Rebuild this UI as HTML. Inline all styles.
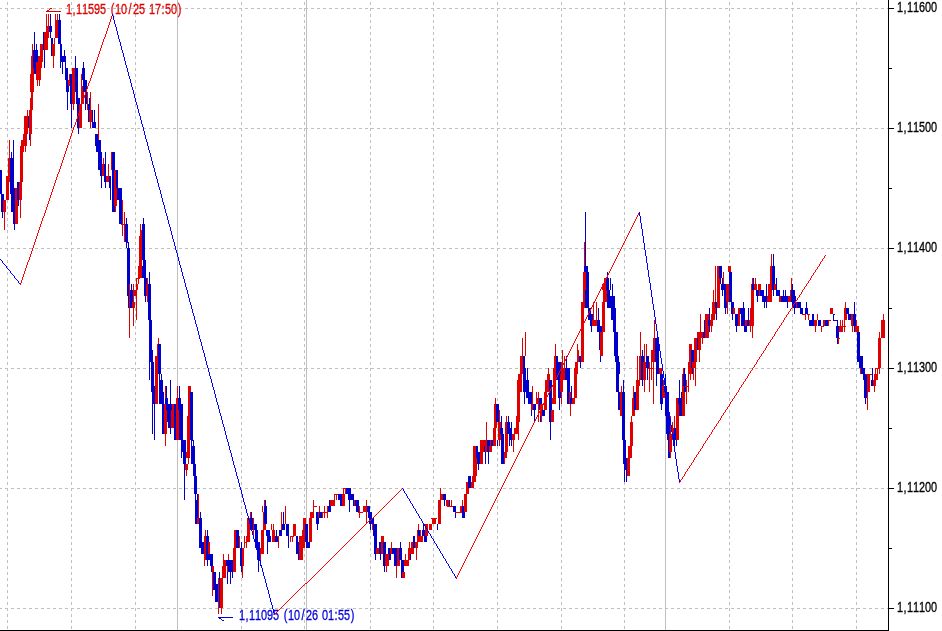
<!DOCTYPE html>
<html><head><meta charset="utf-8"><title>chart</title>
<style>html,body{margin:0;padding:0;background:#fff;}body{width:942px;height:631px;overflow:hidden;font-family:"Liberation Sans",sans-serif;}svg{display:block;}text{font-family:"Liberation Sans",sans-serif;}</style></head><body>
<svg width="942" height="631" viewBox="0 0 942 631">
<rect width="942" height="631" fill="#fff"/>
<g shape-rendering="crispEdges" fill="none">
<line x1="177.5" y1="0" x2="177.5" y2="630" stroke="#c0c0c0"/>
<line x1="306.5" y1="0" x2="306.5" y2="630" stroke="#c0c0c0"/>
<line x1="665.5" y1="0" x2="665.5" y2="630" stroke="#c0c0c0"/>
<line x1="-1" y1="8.5" x2="888" y2="8.5" stroke="#c0c0c0" stroke-dasharray="3 3"/>
<line x1="-1" y1="128.5" x2="888" y2="128.5" stroke="#c0c0c0" stroke-dasharray="3 3"/>
<line x1="-1" y1="248.5" x2="888" y2="248.5" stroke="#c0c0c0" stroke-dasharray="3 3"/>
<line x1="-1" y1="368.5" x2="888" y2="368.5" stroke="#c0c0c0" stroke-dasharray="3 3"/>
<line x1="-1" y1="488.5" x2="888" y2="488.5" stroke="#c0c0c0" stroke-dasharray="3 3"/>
<line x1="-1" y1="608.5" x2="888" y2="608.5" stroke="#c0c0c0" stroke-dasharray="3 3"/>
<line x1="7.5" y1="2" x2="7.5" y2="630" stroke="#c0c0c0" stroke-dasharray="3 3"/>
<line x1="71.5" y1="2" x2="71.5" y2="630" stroke="#c0c0c0" stroke-dasharray="3 3"/>
<line x1="135.5" y1="2" x2="135.5" y2="630" stroke="#c0c0c0" stroke-dasharray="3 3"/>
<line x1="241.5" y1="2" x2="241.5" y2="630" stroke="#c0c0c0" stroke-dasharray="3 3"/>
<line x1="304.5" y1="2" x2="304.5" y2="630" stroke="#c0c0c0" stroke-dasharray="3 3"/>
<line x1="370.5" y1="2" x2="370.5" y2="630" stroke="#c0c0c0" stroke-dasharray="3 3"/>
<line x1="433.5" y1="2" x2="433.5" y2="630" stroke="#c0c0c0" stroke-dasharray="3 3"/>
<line x1="497.5" y1="2" x2="497.5" y2="630" stroke="#c0c0c0" stroke-dasharray="3 3"/>
<line x1="561.5" y1="2" x2="561.5" y2="630" stroke="#c0c0c0" stroke-dasharray="3 3"/>
<line x1="624.5" y1="2" x2="624.5" y2="630" stroke="#c0c0c0" stroke-dasharray="3 3"/>
<line x1="729.5" y1="2" x2="729.5" y2="630" stroke="#c0c0c0" stroke-dasharray="3 3"/>
<line x1="792.5" y1="2" x2="792.5" y2="630" stroke="#c0c0c0" stroke-dasharray="3 3"/>
<line x1="856.5" y1="2" x2="856.5" y2="630" stroke="#c0c0c0" stroke-dasharray="3 3"/>
</g>
<g shape-rendering="crispEdges">
<rect x="32" y="44" width="1" height="12" fill="#e00000"/>
<rect x="31" y="56" width="3" height="24" fill="#e00000"/>
<rect x="34" y="32" width="1" height="18" fill="#0000cc"/>
<rect x="33" y="50" width="5" height="24" fill="#0000cc"/>
<rect x="36" y="44" width="1" height="6" fill="#0000cc"/>
<rect x="36" y="62" width="5" height="18" fill="#e00000"/>
<rect x="38" y="56" width="4" height="12" fill="#e00000"/>
<rect x="40" y="44" width="3" height="18" fill="#e00000"/>
<rect x="43" y="32" width="2" height="18" fill="#0000cc"/>
<rect x="44" y="50" width="1" height="18" fill="#0000cc"/>
<rect x="44" y="32" width="4" height="18" fill="#e00000"/>
<rect x="46" y="26" width="3" height="12" fill="#e00000"/>
<rect x="46" y="14" width="1" height="12" fill="#e00000"/>
<rect x="48" y="14" width="1" height="12" fill="#e00000"/>
<rect x="49" y="26" width="3" height="6" fill="#0000cc"/>
<rect x="50" y="14" width="1" height="24" fill="#0000cc"/>
<rect x="51" y="38" width="2" height="18" fill="#0000cc"/>
<rect x="52" y="44" width="3" height="12" fill="#e00000"/>
<rect x="53" y="56" width="1" height="12" fill="#e00000"/>
<rect x="54" y="38" width="1" height="6" fill="#e00000"/>
<rect x="55" y="20" width="3" height="18" fill="#e00000"/>
<rect x="55" y="14" width="1" height="6" fill="#e00000"/>
<rect x="57" y="14" width="1" height="6" fill="#e00000"/>
<rect x="58" y="20" width="3" height="24" fill="#0000cc"/>
<rect x="59" y="14" width="1" height="6" fill="#0000cc"/>
<rect x="60" y="44" width="2" height="12" fill="#0000cc"/>
<rect x="60" y="56" width="6" height="6" fill="#0000cc"/>
<rect x="60" y="62" width="1" height="6" fill="#0000cc"/>
<rect x="62" y="62" width="1" height="12" fill="#0000cc"/>
<rect x="64" y="50" width="1" height="6" fill="#0000cc"/>
<rect x="65" y="62" width="1" height="6" fill="#0000cc"/>
<rect x="65" y="68" width="3" height="12" fill="#0000cc"/>
<rect x="70" y="74" width="1" height="6" fill="#e00000"/>
<rect x="72" y="68" width="2" height="6" fill="#e00000"/>
<rect x="74" y="68" width="3" height="6" fill="#0000cc"/>
<rect x="75" y="56" width="1" height="12" fill="#0000cc"/>
<rect x="75" y="74" width="3" height="6" fill="#0000cc"/>
<rect x="81" y="74" width="2" height="6" fill="#e00000"/>
<rect x="82" y="68" width="3" height="12" fill="#0000cc"/>
<rect x="83" y="62" width="1" height="6" fill="#0000cc"/>
<rect x="0" y="170" width="2" height="24" fill="#0000cc"/>
<rect x="1" y="194" width="3" height="18" fill="#0000cc"/>
<rect x="2" y="212" width="1" height="6" fill="#0000cc"/>
<rect x="3" y="200" width="3" height="12" fill="#e00000"/>
<rect x="4" y="212" width="1" height="6" fill="#e00000"/>
<rect x="6" y="176" width="3" height="24" fill="#e00000"/>
<rect x="8" y="158" width="2" height="24" fill="#e00000"/>
<rect x="9" y="140" width="1" height="18" fill="#e00000"/>
<rect x="10" y="158" width="4" height="36" fill="#0000cc"/>
<rect x="11" y="152" width="1" height="6" fill="#0000cc"/>
<rect x="11" y="188" width="4" height="24" fill="#0000cc"/>
<rect x="13" y="140" width="1" height="18" fill="#0000cc"/>
<rect x="13" y="194" width="2" height="24" fill="#0000cc"/>
<rect x="15" y="188" width="3" height="30" fill="#e00000"/>
<rect x="17" y="182" width="2" height="18" fill="#0000cc"/>
<rect x="18" y="200" width="1" height="6" fill="#0000cc"/>
<rect x="19" y="182" width="3" height="18" fill="#e00000"/>
<rect x="20" y="200" width="1" height="18" fill="#e00000"/>
<rect x="20" y="146" width="3" height="36" fill="#e00000"/>
<rect x="22" y="140" width="5" height="6" fill="#e00000"/>
<rect x="25" y="146" width="1" height="6" fill="#e00000"/>
<rect x="30" y="140" width="1" height="6" fill="#e00000"/>
<rect x="95" y="140" width="6" height="6" fill="#0000cc"/>
<rect x="96" y="146" width="1" height="6" fill="#0000cc"/>
<rect x="98" y="146" width="3" height="24" fill="#0000cc"/>
<rect x="100" y="152" width="2" height="24" fill="#0000cc"/>
<rect x="101" y="176" width="1" height="12" fill="#0000cc"/>
<rect x="102" y="164" width="3" height="12" fill="#e00000"/>
<rect x="103" y="158" width="1" height="6" fill="#e00000"/>
<rect x="104" y="164" width="2" height="18" fill="#0000cc"/>
<rect x="105" y="152" width="1" height="36" fill="#0000cc"/>
<rect x="106" y="176" width="3" height="6" fill="#e00000"/>
<rect x="108" y="164" width="1" height="12" fill="#e00000"/>
<rect x="109" y="176" width="2" height="12" fill="#0000cc"/>
<rect x="110" y="188" width="1" height="12" fill="#0000cc"/>
<rect x="111" y="152" width="1" height="18" fill="#e00000"/>
<rect x="112" y="152" width="3" height="60" fill="#0000cc"/>
<rect x="114" y="170" width="3" height="36" fill="#e00000"/>
<rect x="115" y="206" width="1" height="6" fill="#e00000"/>
<rect x="116" y="170" width="2" height="18" fill="#0000cc"/>
<rect x="21" y="140" width="1" height="6" fill="#e00000"/>
<rect x="20" y="146" width="4" height="6" fill="#e00000"/>
<rect x="23" y="134" width="4" height="12" fill="#e00000"/>
<rect x="24" y="116" width="4" height="18" fill="#e00000"/>
<rect x="28" y="116" width="1" height="12" fill="#0000cc"/>
<rect x="27" y="110" width="1" height="6" fill="#e00000"/>
<rect x="29" y="110" width="3" height="24" fill="#e00000"/>
<rect x="29" y="134" width="1" height="6" fill="#0000cc"/>
<rect x="30" y="134" width="1" height="12" fill="#e00000"/>
<rect x="30" y="98" width="3" height="12" fill="#e00000"/>
<rect x="31" y="92" width="1" height="6" fill="#e00000"/>
<rect x="32" y="92" width="1" height="6" fill="#e00000"/>
<rect x="31" y="74" width="3" height="18" fill="#e00000"/>
<rect x="32" y="68" width="2" height="6" fill="#e00000"/>
<rect x="34" y="68" width="3" height="6" fill="#0000cc"/>
<rect x="36" y="68" width="5" height="12" fill="#e00000"/>
<rect x="37" y="80" width="1" height="6" fill="#e00000"/>
<rect x="39" y="80" width="1" height="6" fill="#e00000"/>
<rect x="62" y="68" width="1" height="6" fill="#0000cc"/>
<rect x="65" y="68" width="3" height="12" fill="#0000cc"/>
<rect x="66" y="80" width="3" height="12" fill="#0000cc"/>
<rect x="67" y="92" width="1" height="18" fill="#0000cc"/>
<rect x="68" y="80" width="2" height="6" fill="#e00000"/>
<rect x="69" y="74" width="1" height="6" fill="#e00000"/>
<rect x="70" y="74" width="2" height="30" fill="#0000cc"/>
<rect x="71" y="104" width="1" height="24" fill="#0000cc"/>
<rect x="72" y="68" width="3" height="36" fill="#e00000"/>
<rect x="73" y="104" width="1" height="6" fill="#e00000"/>
<rect x="75" y="68" width="3" height="24" fill="#0000cc"/>
<rect x="76" y="98" width="4" height="6" fill="#0000cc"/>
<rect x="77" y="104" width="2" height="24" fill="#0000cc"/>
<rect x="78" y="128" width="1" height="6" fill="#0000cc"/>
<rect x="79" y="104" width="3" height="24" fill="#e00000"/>
<rect x="81" y="74" width="1" height="30" fill="#e00000"/>
<rect x="81" y="86" width="3" height="18" fill="#e00000"/>
<rect x="82" y="68" width="3" height="12" fill="#0000cc"/>
<rect x="83" y="80" width="4" height="12" fill="#0000cc"/>
<rect x="85" y="92" width="2" height="12" fill="#0000cc"/>
<rect x="85" y="104" width="1" height="6" fill="#0000cc"/>
<rect x="87" y="92" width="1" height="18" fill="#e00000"/>
<rect x="88" y="104" width="2" height="18" fill="#0000cc"/>
<rect x="89" y="98" width="1" height="6" fill="#0000cc"/>
<rect x="89" y="110" width="3" height="12" fill="#e00000"/>
<rect x="90" y="92" width="1" height="36" fill="#e00000"/>
<rect x="92" y="110" width="1" height="12" fill="#0000cc"/>
<rect x="94" y="110" width="1" height="12" fill="#0000cc"/>
<rect x="92" y="122" width="4" height="6" fill="#0000cc"/>
<rect x="98" y="104" width="1" height="36" fill="#e00000"/>
<rect x="95" y="134" width="3" height="12" fill="#0000cc"/>
<rect x="97" y="140" width="4" height="12" fill="#0000cc"/>
<rect x="4" y="212" width="1" height="18" fill="#e00000"/>
<rect x="13" y="212" width="2" height="12" fill="#0000cc"/>
<rect x="14" y="224" width="1" height="6" fill="#0000cc"/>
<rect x="15" y="212" width="3" height="12" fill="#e00000"/>
<rect x="76" y="92" width="2" height="6" fill="#0000cc"/>
<rect x="30" y="74" width="4" height="18" fill="#e00000"/>
<rect x="110" y="194" width="1" height="6" fill="#0000cc"/>
<rect x="112" y="194" width="3" height="18" fill="#0000cc"/>
<rect x="114" y="194" width="3" height="12" fill="#e00000"/>
<rect x="115" y="206" width="1" height="6" fill="#e00000"/>
<rect x="117" y="188" width="5" height="12" fill="#0000cc"/>
<rect x="119" y="200" width="3" height="24" fill="#0000cc"/>
<rect x="122" y="200" width="1" height="36" fill="#e00000"/>
<rect x="121" y="224" width="3" height="1" fill="#e00000"/>
<rect x="124" y="212" width="1" height="30" fill="#e00000"/>
<rect x="125" y="224" width="3" height="18" fill="#0000cc"/>
<rect x="126" y="218" width="1" height="6" fill="#0000cc"/>
<rect x="126" y="242" width="1" height="6" fill="#0000cc"/>
<rect x="128" y="242" width="1" height="6" fill="#0000cc"/>
<rect x="126" y="242" width="3" height="1" fill="#0000cc"/>
<rect x="127" y="248" width="3" height="30" fill="#0000cc"/>
<rect x="140" y="224" width="1" height="12" fill="#e00000"/>
<rect x="141" y="230" width="1" height="6" fill="#e00000"/>
<rect x="139" y="236" width="3" height="30" fill="#e00000"/>
<rect x="138" y="266" width="4" height="12" fill="#e00000"/>
<rect x="142" y="224" width="3" height="36" fill="#0000cc"/>
<rect x="143" y="218" width="1" height="6" fill="#0000cc"/>
<rect x="143" y="260" width="3" height="18" fill="#0000cc"/>
<rect x="149" y="272" width="1" height="6" fill="#0000cc"/>
<rect x="127" y="266" width="3" height="30" fill="#0000cc"/>
<rect x="128" y="290" width="2" height="18" fill="#0000cc"/>
<rect x="129" y="284" width="1" height="54" fill="#e00000"/>
<rect x="129" y="290" width="1" height="6" fill="#e00000"/>
<rect x="131" y="284" width="1" height="6" fill="#0000cc"/>
<rect x="130" y="290" width="3" height="18" fill="#0000cc"/>
<rect x="132" y="302" width="3" height="6" fill="#e00000"/>
<rect x="133" y="284" width="1" height="42" fill="#e00000"/>
<rect x="134" y="290" width="3" height="6" fill="#e00000"/>
<rect x="136" y="278" width="1" height="42" fill="#e00000"/>
<rect x="136" y="284" width="2" height="6" fill="#e00000"/>
<rect x="136" y="278" width="1" height="6" fill="#e00000"/>
<rect x="138" y="278" width="1" height="6" fill="#e00000"/>
<rect x="136" y="278" width="4" height="1" fill="#e00000"/>
<rect x="138" y="266" width="4" height="6" fill="#e00000"/>
<rect x="138" y="272" width="1" height="6" fill="#e00000"/>
<rect x="141" y="272" width="1" height="6" fill="#e00000"/>
<rect x="142" y="266" width="4" height="12" fill="#0000cc"/>
<rect x="144" y="278" width="3" height="18" fill="#0000cc"/>
<rect x="145" y="296" width="1" height="6" fill="#0000cc"/>
<rect x="146" y="284" width="2" height="12" fill="#e00000"/>
<rect x="147" y="278" width="1" height="24" fill="#e00000"/>
<rect x="149" y="272" width="1" height="12" fill="#0000cc"/>
<rect x="148" y="284" width="3" height="36" fill="#0000cc"/>
<rect x="149" y="320" width="3" height="30" fill="#0000cc"/>
<rect x="158" y="338" width="1" height="6" fill="#e00000"/>
<rect x="157" y="344" width="2" height="6" fill="#e00000"/>
<rect x="158" y="344" width="3" height="6" fill="#0000cc"/>
<rect x="149" y="338" width="3" height="12" fill="#0000cc"/>
<rect x="149" y="350" width="4" height="12" fill="#0000cc"/>
<rect x="149" y="362" width="1" height="18" fill="#0000cc"/>
<rect x="151" y="362" width="3" height="30" fill="#0000cc"/>
<rect x="152" y="386" width="3" height="18" fill="#0000cc"/>
<rect x="152" y="404" width="1" height="18" fill="#0000cc"/>
<rect x="154" y="404" width="1" height="18" fill="#0000cc"/>
<rect x="155" y="356" width="3" height="48" fill="#e00000"/>
<rect x="157" y="344" width="2" height="12" fill="#e00000"/>
<rect x="158" y="338" width="1" height="6" fill="#e00000"/>
<rect x="158" y="344" width="3" height="30" fill="#0000cc"/>
<rect x="159" y="374" width="1" height="6" fill="#0000cc"/>
<rect x="161" y="374" width="1" height="6" fill="#0000cc"/>
<rect x="159" y="380" width="4" height="24" fill="#0000cc"/>
<rect x="162" y="392" width="2" height="30" fill="#0000cc"/>
<rect x="164" y="404" width="2" height="12" fill="#e00000"/>
<rect x="165" y="386" width="1" height="18" fill="#e00000"/>
<rect x="166" y="386" width="1" height="12" fill="#0000cc"/>
<rect x="165" y="398" width="3" height="6" fill="#0000cc"/>
<rect x="166" y="404" width="6" height="18" fill="#0000cc"/>
<rect x="170" y="380" width="1" height="24" fill="#0000cc"/>
<rect x="172" y="404" width="2" height="18" fill="#e00000"/>
<rect x="174" y="404" width="2" height="18" fill="#0000cc"/>
<rect x="177" y="386" width="1" height="12" fill="#e00000"/>
<rect x="176" y="398" width="2" height="24" fill="#e00000"/>
<rect x="179" y="386" width="1" height="12" fill="#0000cc"/>
<rect x="178" y="398" width="3" height="12" fill="#0000cc"/>
<rect x="179" y="404" width="4" height="18" fill="#0000cc"/>
<rect x="188" y="386" width="3" height="6" fill="#e00000"/>
<rect x="188" y="392" width="2" height="30" fill="#e00000"/>
<rect x="187" y="416" width="3" height="6" fill="#e00000"/>
<rect x="190" y="392" width="3" height="30" fill="#0000cc"/>
<rect x="152" y="410" width="1" height="24" fill="#0000cc"/>
<rect x="154" y="410" width="1" height="30" fill="#0000cc"/>
<rect x="162" y="410" width="3" height="24" fill="#0000cc"/>
<rect x="164" y="410" width="3" height="24" fill="#e00000"/>
<rect x="165" y="434" width="1" height="12" fill="#e00000"/>
<rect x="168" y="410" width="3" height="18" fill="#0000cc"/>
<rect x="170" y="428" width="1" height="6" fill="#0000cc"/>
<rect x="171" y="410" width="3" height="18" fill="#e00000"/>
<rect x="174" y="410" width="2" height="30" fill="#0000cc"/>
<rect x="176" y="410" width="3" height="30" fill="#e00000"/>
<rect x="179" y="410" width="1" height="6" fill="#0000cc"/>
<rect x="181" y="410" width="1" height="6" fill="#0000cc"/>
<rect x="179" y="416" width="4" height="24" fill="#0000cc"/>
<rect x="181" y="440" width="5" height="12" fill="#0000cc"/>
<rect x="181" y="452" width="1" height="6" fill="#0000cc"/>
<rect x="183" y="452" width="3" height="12" fill="#0000cc"/>
<rect x="184" y="464" width="1" height="30" fill="#0000cc"/>
<rect x="188" y="410" width="2" height="6" fill="#e00000"/>
<rect x="187" y="416" width="3" height="42" fill="#e00000"/>
<rect x="186" y="452" width="4" height="6" fill="#e00000"/>
<rect x="185" y="464" width="3" height="6" fill="#e00000"/>
<rect x="186" y="470" width="1" height="6" fill="#e00000"/>
<rect x="188" y="458" width="1" height="6" fill="#e00000"/>
<rect x="190" y="410" width="3" height="30" fill="#0000cc"/>
<rect x="191" y="440" width="1" height="6" fill="#0000cc"/>
<rect x="193" y="440" width="1" height="6" fill="#0000cc"/>
<rect x="191" y="440" width="3" height="1" fill="#0000cc"/>
<rect x="191" y="446" width="4" height="18" fill="#0000cc"/>
<rect x="193" y="464" width="3" height="12" fill="#0000cc"/>
<rect x="194" y="476" width="3" height="18" fill="#0000cc"/>
<rect x="184" y="482" width="1" height="18" fill="#0000cc"/>
<rect x="194" y="482" width="3" height="12" fill="#0000cc"/>
<rect x="195" y="494" width="1" height="6" fill="#0000cc"/>
<rect x="197" y="494" width="1" height="6" fill="#0000cc"/>
<rect x="195" y="500" width="3" height="24" fill="#0000cc"/>
<rect x="198" y="494" width="1" height="24" fill="#e00000"/>
<rect x="197" y="518" width="2" height="6" fill="#e00000"/>
<rect x="200" y="512" width="1" height="6" fill="#0000cc"/>
<rect x="199" y="518" width="3" height="30" fill="#0000cc"/>
<rect x="201" y="542" width="3" height="12" fill="#0000cc"/>
<rect x="205" y="530" width="1" height="6" fill="#e00000"/>
<rect x="204" y="536" width="2" height="24" fill="#e00000"/>
<rect x="204" y="560" width="1" height="6" fill="#e00000"/>
<rect x="207" y="530" width="1" height="6" fill="#0000cc"/>
<rect x="206" y="536" width="3" height="24" fill="#0000cc"/>
<rect x="208" y="542" width="2" height="18" fill="#e00000"/>
<rect x="209" y="554" width="4" height="6" fill="#0000cc"/>
<rect x="207" y="560" width="1" height="6" fill="#0000cc"/>
<rect x="211" y="560" width="2" height="6" fill="#0000cc"/>
<rect x="212" y="560" width="1" height="6" fill="#e00000"/>
<rect x="223" y="554" width="1" height="6" fill="#e00000"/>
<rect x="223" y="560" width="3" height="6" fill="#e00000"/>
<rect x="228" y="554" width="1" height="6" fill="#e00000"/>
<rect x="226" y="560" width="2" height="6" fill="#0000cc"/>
<rect x="229" y="560" width="4" height="6" fill="#0000cc"/>
<rect x="233" y="548" width="3" height="18" fill="#e00000"/>
<rect x="234" y="530" width="3" height="18" fill="#e00000"/>
<rect x="236" y="530" width="3" height="18" fill="#0000cc"/>
<rect x="239" y="536" width="1" height="12" fill="#e00000"/>
<rect x="240" y="548" width="1" height="18" fill="#0000cc"/>
<rect x="241" y="542" width="1" height="6" fill="#0000cc"/>
<rect x="241" y="548" width="3" height="18" fill="#e00000"/>
<rect x="244" y="536" width="1" height="12" fill="#e00000"/>
<rect x="246" y="536" width="1" height="12" fill="#e00000"/>
<rect x="244" y="542" width="3" height="1" fill="#e00000"/>
<rect x="247" y="518" width="3" height="24" fill="#e00000"/>
<rect x="250" y="512" width="1" height="6" fill="#e00000"/>
<rect x="251" y="512" width="1" height="6" fill="#0000cc"/>
<rect x="250" y="518" width="3" height="12" fill="#0000cc"/>
<rect x="253" y="518" width="1" height="18" fill="#e00000"/>
<rect x="254" y="524" width="3" height="6" fill="#0000cc"/>
<rect x="255" y="530" width="3" height="18" fill="#0000cc"/>
<rect x="257" y="542" width="3" height="18" fill="#0000cc"/>
<rect x="258" y="560" width="1" height="6" fill="#0000cc"/>
<rect x="260" y="560" width="1" height="6" fill="#0000cc"/>
<rect x="260" y="548" width="4" height="6" fill="#e00000"/>
<rect x="260" y="554" width="1" height="6" fill="#e00000"/>
<rect x="261" y="530" width="3" height="18" fill="#e00000"/>
<rect x="263" y="512" width="3" height="18" fill="#e00000"/>
<rect x="262" y="506" width="1" height="6" fill="#e00000"/>
<rect x="264" y="500" width="1" height="12" fill="#e00000"/>
<rect x="264" y="506" width="3" height="18" fill="#0000cc"/>
<rect x="265" y="500" width="1" height="6" fill="#0000cc"/>
<rect x="266" y="530" width="4" height="6" fill="#0000cc"/>
<rect x="267" y="542" width="1" height="12" fill="#0000cc"/>
<rect x="267" y="536" width="4" height="6" fill="#0000cc"/>
<rect x="271" y="524" width="1" height="6" fill="#e00000"/>
<rect x="273" y="524" width="1" height="6" fill="#e00000"/>
<rect x="272" y="530" width="3" height="12" fill="#e00000"/>
<rect x="275" y="536" width="3" height="6" fill="#0000cc"/>
<rect x="276" y="530" width="1" height="6" fill="#0000cc"/>
<rect x="278" y="536" width="1" height="12" fill="#e00000"/>
<rect x="277" y="536" width="2" height="1" fill="#e00000"/>
<rect x="279" y="530" width="3" height="6" fill="#0000cc"/>
<rect x="281" y="512" width="1" height="18" fill="#e00000"/>
<rect x="282" y="524" width="3" height="6" fill="#0000cc"/>
<rect x="283" y="512" width="1" height="12" fill="#0000cc"/>
<rect x="285" y="506" width="1" height="18" fill="#e00000"/>
<rect x="286" y="524" width="3" height="12" fill="#0000cc"/>
<rect x="288" y="536" width="1" height="12" fill="#0000cc"/>
<rect x="290" y="536" width="1" height="6" fill="#e00000"/>
<rect x="292" y="536" width="1" height="6" fill="#e00000"/>
<rect x="290" y="536" width="4" height="1" fill="#e00000"/>
<rect x="201" y="548" width="3" height="6" fill="#0000cc"/>
<rect x="204" y="548" width="2" height="12" fill="#e00000"/>
<rect x="204" y="560" width="1" height="6" fill="#e00000"/>
<rect x="206" y="548" width="3" height="12" fill="#0000cc"/>
<rect x="207" y="560" width="1" height="6" fill="#0000cc"/>
<rect x="208" y="548" width="2" height="6" fill="#e00000"/>
<rect x="210" y="554" width="3" height="12" fill="#0000cc"/>
<rect x="211" y="566" width="3" height="6" fill="#0000cc"/>
<rect x="212" y="566" width="2" height="6" fill="#e00000"/>
<rect x="212" y="572" width="1" height="24" fill="#e00000"/>
<rect x="213" y="572" width="3" height="18" fill="#0000cc"/>
<rect x="215" y="584" width="3" height="18" fill="#0000cc"/>
<rect x="217" y="590" width="3" height="12" fill="#0000cc"/>
<rect x="218" y="578" width="1" height="36" fill="#e00000"/>
<rect x="219" y="572" width="1" height="36" fill="#0000cc"/>
<rect x="220" y="578" width="3" height="30" fill="#e00000"/>
<rect x="221" y="608" width="1" height="6" fill="#e00000"/>
<rect x="222" y="566" width="4" height="12" fill="#e00000"/>
<rect x="223" y="560" width="3" height="6" fill="#e00000"/>
<rect x="223" y="554" width="1" height="6" fill="#e00000"/>
<rect x="226" y="560" width="2" height="6" fill="#0000cc"/>
<rect x="227" y="566" width="3" height="6" fill="#e00000"/>
<rect x="227" y="572" width="1" height="12" fill="#0000cc"/>
<rect x="228" y="554" width="1" height="12" fill="#e00000"/>
<rect x="228" y="560" width="5" height="12" fill="#0000cc"/>
<rect x="230" y="572" width="1" height="12" fill="#0000cc"/>
<rect x="232" y="572" width="1" height="6" fill="#0000cc"/>
<rect x="233" y="548" width="3" height="24" fill="#e00000"/>
<rect x="240" y="548" width="2" height="18" fill="#0000cc"/>
<rect x="241" y="566" width="1" height="6" fill="#0000cc"/>
<rect x="242" y="548" width="2" height="18" fill="#e00000"/>
<rect x="242" y="566" width="1" height="12" fill="#e00000"/>
<rect x="257" y="548" width="3" height="12" fill="#0000cc"/>
<rect x="258" y="560" width="1" height="12" fill="#0000cc"/>
<rect x="260" y="548" width="4" height="6" fill="#e00000"/>
<rect x="267" y="548" width="1" height="6" fill="#0000cc"/>
<rect x="298" y="548" width="5" height="12" fill="#0000cc"/>
<rect x="293" y="524" width="3" height="12" fill="#e00000"/>
<rect x="296" y="536" width="2" height="12" fill="#0000cc"/>
<rect x="296" y="542" width="3" height="12" fill="#0000cc"/>
<rect x="299" y="536" width="4" height="24" fill="#e00000"/>
<rect x="302" y="530" width="3" height="18" fill="#e00000"/>
<rect x="303" y="518" width="3" height="18" fill="#e00000"/>
<rect x="305" y="524" width="3" height="18" fill="#0000cc"/>
<rect x="306" y="542" width="4" height="6" fill="#0000cc"/>
<rect x="309" y="518" width="3" height="24" fill="#e00000"/>
<rect x="310" y="512" width="4" height="6" fill="#e00000"/>
<rect x="313" y="500" width="1" height="12" fill="#e00000"/>
<rect x="313" y="506" width="4" height="1" fill="#e00000"/>
<rect x="316" y="512" width="3" height="12" fill="#0000cc"/>
<rect x="317" y="524" width="1" height="6" fill="#0000cc"/>
<rect x="318" y="512" width="1" height="6" fill="#e00000"/>
<rect x="319" y="512" width="3" height="6" fill="#0000cc"/>
<rect x="319" y="506" width="1" height="6" fill="#e00000"/>
<rect x="322" y="512" width="4" height="1" fill="#e00000"/>
<rect x="322" y="512" width="1" height="6" fill="#e00000"/>
<rect x="324" y="506" width="1" height="12" fill="#e00000"/>
<rect x="327" y="506" width="1" height="12" fill="#e00000"/>
<rect x="326" y="512" width="2" height="1" fill="#e00000"/>
<rect x="328" y="506" width="3" height="6" fill="#0000cc"/>
<rect x="329" y="500" width="2" height="6" fill="#0000cc"/>
<rect x="330" y="500" width="5" height="6" fill="#e00000"/>
<rect x="334" y="494" width="1" height="6" fill="#e00000"/>
<rect x="336" y="494" width="1" height="6" fill="#e00000"/>
<rect x="334" y="494" width="4" height="1" fill="#e00000"/>
<rect x="338" y="494" width="2" height="6" fill="#0000cc"/>
<rect x="340" y="494" width="2" height="12" fill="#0000cc"/>
<rect x="342" y="494" width="3" height="12" fill="#e00000"/>
<rect x="343" y="488" width="1" height="6" fill="#e00000"/>
<rect x="345" y="488" width="1" height="6" fill="#e00000"/>
<rect x="343" y="488" width="3" height="1" fill="#e00000"/>
<rect x="346" y="488" width="5" height="6" fill="#0000cc"/>
<rect x="348" y="494" width="3" height="6" fill="#0000cc"/>
<rect x="349" y="500" width="1" height="12" fill="#0000cc"/>
<rect x="351" y="494" width="3" height="6" fill="#0000cc"/>
<rect x="353" y="500" width="3" height="6" fill="#0000cc"/>
<rect x="354" y="500" width="1" height="6" fill="#e00000"/>
<rect x="356" y="500" width="3" height="12" fill="#0000cc"/>
<rect x="358" y="512" width="5" height="1" fill="#e00000"/>
<rect x="359" y="506" width="1" height="12" fill="#e00000"/>
<rect x="363" y="506" width="4" height="6" fill="#e00000"/>
<rect x="366" y="500" width="1" height="24" fill="#e00000"/>
<rect x="367" y="506" width="3" height="6" fill="#0000cc"/>
<rect x="368" y="512" width="4" height="6" fill="#0000cc"/>
<rect x="369" y="518" width="5" height="6" fill="#0000cc"/>
<rect x="370" y="524" width="1" height="6" fill="#0000cc"/>
<rect x="372" y="524" width="1" height="6" fill="#e00000"/>
<rect x="373" y="524" width="4" height="12" fill="#0000cc"/>
<rect x="374" y="536" width="3" height="18" fill="#0000cc"/>
<rect x="375" y="554" width="1" height="6" fill="#0000cc"/>
<rect x="376" y="548" width="3" height="6" fill="#e00000"/>
<rect x="379" y="542" width="2" height="12" fill="#0000cc"/>
<rect x="380" y="554" width="1" height="6" fill="#0000cc"/>
<rect x="381" y="536" width="3" height="6" fill="#e00000"/>
<rect x="383" y="542" width="3" height="12" fill="#0000cc"/>
<rect x="386" y="554" width="3" height="6" fill="#e00000"/>
<rect x="388" y="548" width="3" height="12" fill="#0000cc"/>
<rect x="390" y="548" width="2" height="6" fill="#e00000"/>
<rect x="391" y="542" width="1" height="6" fill="#e00000"/>
<rect x="392" y="548" width="5" height="6" fill="#0000cc"/>
<rect x="394" y="554" width="3" height="6" fill="#0000cc"/>
<rect x="397" y="548" width="2" height="12" fill="#e00000"/>
<rect x="399" y="548" width="3" height="12" fill="#0000cc"/>
<rect x="400" y="542" width="1" height="6" fill="#0000cc"/>
<rect x="405" y="554" width="1" height="6" fill="#e00000"/>
<rect x="400" y="548" width="2" height="12" fill="#0000cc"/>
<rect x="400" y="542" width="1" height="6" fill="#0000cc"/>
<rect x="401" y="560" width="3" height="18" fill="#0000cc"/>
<rect x="402" y="572" width="3" height="6" fill="#e00000"/>
<rect x="404" y="560" width="5" height="6" fill="#e00000"/>
<rect x="405" y="554" width="1" height="6" fill="#e00000"/>
<rect x="408" y="548" width="3" height="12" fill="#e00000"/>
<rect x="409" y="548" width="2" height="6" fill="#0000cc"/>
<rect x="410" y="554" width="1" height="6" fill="#0000cc"/>
<rect x="409" y="542" width="1" height="6" fill="#e00000"/>
<rect x="411" y="542" width="3" height="12" fill="#e00000"/>
<rect x="413" y="542" width="2" height="6" fill="#0000cc"/>
<rect x="414" y="536" width="1" height="6" fill="#0000cc"/>
<rect x="415" y="542" width="3" height="6" fill="#e00000"/>
<rect x="416" y="548" width="1" height="12" fill="#e00000"/>
<rect x="417" y="530" width="4" height="12" fill="#e00000"/>
<rect x="418" y="524" width="1" height="6" fill="#e00000"/>
<rect x="418" y="530" width="2" height="6" fill="#0000cc"/>
<rect x="420" y="536" width="3" height="6" fill="#e00000"/>
<rect x="422" y="530" width="3" height="6" fill="#0000cc"/>
<rect x="423" y="524" width="1" height="6" fill="#0000cc"/>
<rect x="424" y="536" width="3" height="6" fill="#0000cc"/>
<rect x="425" y="524" width="3" height="12" fill="#e00000"/>
<rect x="429" y="524" width="3" height="6" fill="#e00000"/>
<rect x="431" y="518" width="6" height="1" fill="#e00000"/>
<rect x="432" y="518" width="4" height="6" fill="#e00000"/>
<rect x="437" y="524" width="1" height="6" fill="#0000cc"/>
<rect x="438" y="506" width="3" height="18" fill="#e00000"/>
<rect x="453" y="506" width="3" height="6" fill="#0000cc"/>
<rect x="455" y="512" width="1" height="6" fill="#0000cc"/>
<rect x="455" y="512" width="8" height="1" fill="#e00000"/>
<rect x="461" y="506" width="1" height="6" fill="#e00000"/>
<rect x="462" y="506" width="3" height="12" fill="#0000cc"/>
<rect x="465" y="506" width="2" height="6" fill="#e00000"/>
<rect x="440" y="488" width="1" height="12" fill="#e00000"/>
<rect x="438" y="500" width="3" height="18" fill="#e00000"/>
<rect x="440" y="494" width="3" height="6" fill="#e00000"/>
<rect x="443" y="494" width="3" height="6" fill="#0000cc"/>
<rect x="444" y="500" width="1" height="6" fill="#0000cc"/>
<rect x="446" y="500" width="3" height="6" fill="#e00000"/>
<rect x="449" y="500" width="1" height="6" fill="#0000cc"/>
<rect x="451" y="500" width="1" height="6" fill="#e00000"/>
<rect x="447" y="506" width="6" height="1" fill="#e00000"/>
<rect x="454" y="506" width="2" height="6" fill="#0000cc"/>
<rect x="455" y="512" width="1" height="6" fill="#0000cc"/>
<rect x="455" y="512" width="7" height="1" fill="#e00000"/>
<rect x="460" y="506" width="2" height="6" fill="#e00000"/>
<rect x="462" y="500" width="1" height="6" fill="#e00000"/>
<rect x="462" y="506" width="3" height="12" fill="#0000cc"/>
<rect x="464" y="494" width="3" height="18" fill="#e00000"/>
<rect x="466" y="482" width="3" height="12" fill="#e00000"/>
<rect x="468" y="476" width="3" height="12" fill="#0000cc"/>
<rect x="471" y="482" width="3" height="6" fill="#e00000"/>
<rect x="472" y="476" width="4" height="6" fill="#e00000"/>
<rect x="473" y="446" width="4" height="30" fill="#e00000"/>
<rect x="476" y="446" width="2" height="6" fill="#0000cc"/>
<rect x="476" y="452" width="4" height="6" fill="#0000cc"/>
<rect x="477" y="458" width="3" height="6" fill="#0000cc"/>
<rect x="478" y="464" width="1" height="6" fill="#0000cc"/>
<rect x="480" y="452" width="3" height="12" fill="#e00000"/>
<rect x="480" y="440" width="5" height="12" fill="#e00000"/>
<rect x="484" y="446" width="2" height="6" fill="#0000cc"/>
<rect x="485" y="452" width="1" height="12" fill="#0000cc"/>
<rect x="485" y="440" width="2" height="12" fill="#e00000"/>
<rect x="487" y="440" width="3" height="6" fill="#0000cc"/>
<rect x="487" y="446" width="2" height="6" fill="#0000cc"/>
<rect x="488" y="452" width="1" height="12" fill="#0000cc"/>
<rect x="489" y="446" width="3" height="6" fill="#e00000"/>
<rect x="491" y="440" width="2" height="6" fill="#0000cc"/>
<rect x="493" y="440" width="3" height="6" fill="#e00000"/>
<rect x="497" y="440" width="1" height="6" fill="#0000cc"/>
<rect x="499" y="440" width="1" height="6" fill="#e00000"/>
<rect x="501" y="440" width="3" height="24" fill="#0000cc"/>
<rect x="504" y="452" width="3" height="6" fill="#e00000"/>
<rect x="504" y="458" width="1" height="6" fill="#e00000"/>
<rect x="505" y="440" width="3" height="12" fill="#e00000"/>
<rect x="509" y="440" width="1" height="6" fill="#0000cc"/>
<rect x="511" y="440" width="1" height="6" fill="#0000cc"/>
<rect x="513" y="440" width="1" height="12" fill="#e00000"/>
<rect x="473" y="446" width="3" height="1" fill="#e00000"/>
<rect x="480" y="440" width="7" height="6" fill="#e00000"/>
<rect x="486" y="422" width="1" height="18" fill="#e00000"/>
<rect x="487" y="440" width="4" height="6" fill="#0000cc"/>
<rect x="490" y="440" width="2" height="6" fill="#e00000"/>
<rect x="491" y="440" width="2" height="6" fill="#0000cc"/>
<rect x="493" y="428" width="3" height="18" fill="#e00000"/>
<rect x="494" y="404" width="3" height="24" fill="#e00000"/>
<rect x="495" y="398" width="1" height="6" fill="#e00000"/>
<rect x="496" y="404" width="3" height="18" fill="#0000cc"/>
<rect x="498" y="422" width="3" height="18" fill="#e00000"/>
<rect x="499" y="410" width="1" height="12" fill="#e00000"/>
<rect x="501" y="416" width="1" height="12" fill="#0000cc"/>
<rect x="500" y="428" width="3" height="6" fill="#0000cc"/>
<rect x="501" y="434" width="3" height="12" fill="#0000cc"/>
<rect x="505" y="422" width="3" height="24" fill="#e00000"/>
<rect x="506" y="416" width="1" height="6" fill="#e00000"/>
<rect x="507" y="422" width="3" height="12" fill="#0000cc"/>
<rect x="508" y="416" width="1" height="6" fill="#0000cc"/>
<rect x="509" y="428" width="3" height="12" fill="#0000cc"/>
<rect x="511" y="422" width="1" height="6" fill="#0000cc"/>
<rect x="509" y="440" width="1" height="6" fill="#0000cc"/>
<rect x="511" y="440" width="1" height="6" fill="#0000cc"/>
<rect x="512" y="434" width="3" height="6" fill="#e00000"/>
<rect x="513" y="440" width="1" height="6" fill="#e00000"/>
<rect x="514" y="428" width="3" height="6" fill="#e00000"/>
<rect x="516" y="416" width="3" height="18" fill="#e00000"/>
<rect x="518" y="434" width="1" height="6" fill="#e00000"/>
<rect x="517" y="380" width="3" height="42" fill="#e00000"/>
<rect x="518" y="374" width="4" height="18" fill="#e00000"/>
<rect x="520" y="368" width="3" height="6" fill="#e00000"/>
<rect x="523" y="368" width="3" height="24" fill="#0000cc"/>
<rect x="524" y="392" width="1" height="12" fill="#0000cc"/>
<rect x="527" y="368" width="1" height="12" fill="#0000cc"/>
<rect x="526" y="380" width="3" height="18" fill="#0000cc"/>
<rect x="528" y="392" width="4" height="12" fill="#0000cc"/>
<rect x="532" y="386" width="1" height="18" fill="#e00000"/>
<rect x="531" y="404" width="2" height="6" fill="#e00000"/>
<rect x="531" y="410" width="1" height="6" fill="#0000cc"/>
<rect x="533" y="404" width="3" height="6" fill="#0000cc"/>
<rect x="534" y="410" width="1" height="12" fill="#0000cc"/>
<rect x="536" y="392" width="1" height="12" fill="#e00000"/>
<rect x="536" y="398" width="3" height="6" fill="#e00000"/>
<rect x="538" y="392" width="1" height="30" fill="#e00000"/>
<rect x="539" y="398" width="3" height="12" fill="#0000cc"/>
<rect x="540" y="404" width="3" height="12" fill="#e00000"/>
<rect x="541" y="416" width="1" height="6" fill="#e00000"/>
<rect x="540" y="416" width="1" height="6" fill="#0000cc"/>
<rect x="542" y="410" width="3" height="6" fill="#0000cc"/>
<rect x="544" y="392" width="3" height="18" fill="#e00000"/>
<rect x="545" y="380" width="3" height="12" fill="#e00000"/>
<rect x="547" y="374" width="3" height="18" fill="#e00000"/>
<rect x="548" y="368" width="1" height="6" fill="#e00000"/>
<rect x="549" y="380" width="3" height="42" fill="#0000cc"/>
<rect x="550" y="422" width="1" height="18" fill="#0000cc"/>
<rect x="551" y="410" width="3" height="12" fill="#e00000"/>
<rect x="552" y="398" width="4" height="6" fill="#e00000"/>
<rect x="553" y="368" width="3" height="36" fill="#e00000"/>
<rect x="556" y="368" width="4" height="12" fill="#0000cc"/>
<rect x="558" y="374" width="3" height="24" fill="#0000cc"/>
<rect x="559" y="398" width="1" height="12" fill="#0000cc"/>
<rect x="560" y="368" width="3" height="24" fill="#e00000"/>
<rect x="561" y="392" width="1" height="12" fill="#e00000"/>
<rect x="563" y="368" width="2" height="12" fill="#e00000"/>
<rect x="565" y="368" width="5" height="12" fill="#0000cc"/>
<rect x="567" y="368" width="3" height="36" fill="#0000cc"/>
<rect x="569" y="392" width="2" height="12" fill="#e00000"/>
<rect x="570" y="404" width="1" height="12" fill="#e00000"/>
<rect x="571" y="386" width="1" height="12" fill="#0000cc"/>
<rect x="570" y="398" width="2" height="6" fill="#0000cc"/>
<rect x="572" y="398" width="3" height="6" fill="#e00000"/>
<rect x="574" y="368" width="3" height="30" fill="#e00000"/>
<rect x="522" y="338" width="1" height="18" fill="#e00000"/>
<rect x="525" y="332" width="1" height="24" fill="#e00000"/>
<rect x="520" y="356" width="4" height="18" fill="#e00000"/>
<rect x="523" y="356" width="2" height="18" fill="#0000cc"/>
<rect x="527" y="368" width="1" height="6" fill="#0000cc"/>
<rect x="548" y="368" width="1" height="6" fill="#e00000"/>
<rect x="555" y="344" width="1" height="12" fill="#e00000"/>
<rect x="554" y="356" width="3" height="18" fill="#e00000"/>
<rect x="556" y="356" width="2" height="6" fill="#0000cc"/>
<rect x="556" y="362" width="5" height="12" fill="#0000cc"/>
<rect x="562" y="350" width="1" height="12" fill="#e00000"/>
<rect x="561" y="362" width="2" height="12" fill="#e00000"/>
<rect x="564" y="356" width="1" height="12" fill="#e00000"/>
<rect x="566" y="356" width="1" height="12" fill="#0000cc"/>
<rect x="565" y="368" width="5" height="6" fill="#0000cc"/>
<rect x="575" y="362" width="3" height="12" fill="#e00000"/>
<rect x="577" y="344" width="1" height="12" fill="#e00000"/>
<rect x="577" y="350" width="2" height="12" fill="#e00000"/>
<rect x="579" y="356" width="2" height="6" fill="#0000cc"/>
<rect x="580" y="362" width="1" height="6" fill="#0000cc"/>
<rect x="581" y="302" width="3" height="60" fill="#e00000"/>
<rect x="583" y="290" width="3" height="18" fill="#e00000"/>
<rect x="585" y="290" width="4" height="18" fill="#0000cc"/>
<rect x="588" y="308" width="3" height="12" fill="#0000cc"/>
<rect x="590" y="314" width="3" height="12" fill="#0000cc"/>
<rect x="591" y="326" width="1" height="6" fill="#0000cc"/>
<rect x="593" y="302" width="1" height="18" fill="#e00000"/>
<rect x="596" y="302" width="1" height="18" fill="#e00000"/>
<rect x="592" y="320" width="5" height="6" fill="#e00000"/>
<rect x="598" y="308" width="1" height="12" fill="#0000cc"/>
<rect x="597" y="320" width="3" height="12" fill="#0000cc"/>
<rect x="598" y="326" width="4" height="6" fill="#0000cc"/>
<rect x="599" y="332" width="1" height="18" fill="#0000cc"/>
<rect x="600" y="332" width="3" height="24" fill="#e00000"/>
<rect x="600" y="356" width="1" height="6" fill="#0000cc"/>
<rect x="602" y="302" width="3" height="30" fill="#e00000"/>
<rect x="603" y="290" width="4" height="12" fill="#e00000"/>
<rect x="607" y="290" width="3" height="18" fill="#0000cc"/>
<rect x="612" y="290" width="1" height="6" fill="#0000cc"/>
<rect x="609" y="296" width="6" height="6" fill="#0000cc"/>
<rect x="610" y="302" width="5" height="6" fill="#0000cc"/>
<rect x="611" y="308" width="5" height="12" fill="#0000cc"/>
<rect x="613" y="320" width="3" height="12" fill="#0000cc"/>
<rect x="614" y="332" width="4" height="24" fill="#0000cc"/>
<rect x="615" y="356" width="3" height="6" fill="#0000cc"/>
<rect x="616" y="362" width="4" height="12" fill="#0000cc"/>
<rect x="585" y="212" width="1" height="54" fill="#0000cc"/>
<rect x="584" y="242" width="1" height="30" fill="#e00000"/>
<rect x="584" y="266" width="4" height="6" fill="#0000cc"/>
<rect x="583" y="272" width="3" height="18" fill="#e00000"/>
<rect x="586" y="272" width="3" height="18" fill="#0000cc"/>
<rect x="607" y="272" width="1" height="6" fill="#0000cc"/>
<rect x="604" y="278" width="2" height="12" fill="#e00000"/>
<rect x="602" y="284" width="2" height="6" fill="#e00000"/>
<rect x="606" y="278" width="3" height="12" fill="#0000cc"/>
<rect x="610" y="278" width="1" height="12" fill="#0000cc"/>
<rect x="612" y="284" width="1" height="6" fill="#0000cc"/>
<rect x="640" y="332" width="1" height="6" fill="#e00000"/>
<rect x="654" y="320" width="1" height="18" fill="#e00000"/>
<rect x="653" y="338" width="3" height="1" fill="#e00000"/>
<rect x="656" y="338" width="3" height="1" fill="#0000cc"/>
<rect x="700" y="314" width="1" height="18" fill="#e00000"/>
<rect x="694" y="338" width="3" height="1" fill="#e00000"/>
<rect x="697" y="332" width="3" height="6" fill="#0000cc"/>
<rect x="699" y="332" width="4" height="6" fill="#e00000"/>
<rect x="704" y="320" width="2" height="18" fill="#0000cc"/>
<rect x="615" y="332" width="3" height="24" fill="#0000cc"/>
<rect x="616" y="356" width="3" height="36" fill="#0000cc"/>
<rect x="618" y="392" width="2" height="18" fill="#0000cc"/>
<rect x="621" y="386" width="1" height="6" fill="#e00000"/>
<rect x="620" y="392" width="2" height="18" fill="#e00000"/>
<rect x="623" y="380" width="1" height="12" fill="#0000cc"/>
<rect x="622" y="392" width="3" height="18" fill="#0000cc"/>
<rect x="633" y="386" width="1" height="12" fill="#e00000"/>
<rect x="632" y="398" width="2" height="12" fill="#e00000"/>
<rect x="634" y="392" width="2" height="18" fill="#0000cc"/>
<rect x="636" y="380" width="3" height="30" fill="#e00000"/>
<rect x="637" y="380" width="3" height="6" fill="#e00000"/>
<rect x="637" y="356" width="1" height="24" fill="#e00000"/>
<rect x="639" y="356" width="3" height="24" fill="#e00000"/>
<rect x="640" y="332" width="1" height="24" fill="#e00000"/>
<rect x="641" y="356" width="3" height="6" fill="#0000cc"/>
<rect x="642" y="350" width="1" height="36" fill="#0000cc"/>
<rect x="641" y="362" width="3" height="18" fill="#0000cc"/>
<rect x="643" y="362" width="3" height="18" fill="#e00000"/>
<rect x="644" y="344" width="1" height="48" fill="#e00000"/>
<rect x="646" y="356" width="3" height="12" fill="#0000cc"/>
<rect x="646" y="344" width="1" height="12" fill="#e00000"/>
<rect x="647" y="368" width="1" height="12" fill="#0000cc"/>
<rect x="648" y="368" width="6" height="1" fill="#e00000"/>
<rect x="649" y="362" width="1" height="30" fill="#e00000"/>
<rect x="651" y="362" width="1" height="18" fill="#e00000"/>
<rect x="651" y="350" width="4" height="12" fill="#e00000"/>
<rect x="653" y="362" width="1" height="42" fill="#e00000"/>
<rect x="653" y="338" width="3" height="12" fill="#e00000"/>
<rect x="654" y="332" width="1" height="6" fill="#e00000"/>
<rect x="655" y="338" width="4" height="24" fill="#0000cc"/>
<rect x="657" y="332" width="1" height="6" fill="#0000cc"/>
<rect x="656" y="362" width="3" height="12" fill="#0000cc"/>
<rect x="656" y="374" width="1" height="12" fill="#0000cc"/>
<rect x="659" y="368" width="3" height="6" fill="#e00000"/>
<rect x="660" y="374" width="3" height="30" fill="#0000cc"/>
<rect x="661" y="404" width="1" height="6" fill="#0000cc"/>
<rect x="662" y="386" width="3" height="12" fill="#e00000"/>
<rect x="663" y="380" width="1" height="6" fill="#e00000"/>
<rect x="665" y="374" width="1" height="12" fill="#0000cc"/>
<rect x="664" y="386" width="3" height="6" fill="#0000cc"/>
<rect x="665" y="392" width="4" height="18" fill="#0000cc"/>
<rect x="676" y="398" width="3" height="12" fill="#e00000"/>
<rect x="679" y="380" width="1" height="18" fill="#0000cc"/>
<rect x="678" y="398" width="4" height="12" fill="#0000cc"/>
<rect x="681" y="392" width="1" height="6" fill="#0000cc"/>
<rect x="682" y="374" width="2" height="18" fill="#e00000"/>
<rect x="683" y="368" width="1" height="6" fill="#e00000"/>
<rect x="682" y="392" width="3" height="18" fill="#e00000"/>
<rect x="683" y="374" width="3" height="12" fill="#0000cc"/>
<rect x="684" y="368" width="1" height="6" fill="#0000cc"/>
<rect x="684" y="386" width="2" height="6" fill="#0000cc"/>
<rect x="686" y="380" width="1" height="24" fill="#e00000"/>
<rect x="685" y="386" width="4" height="1" fill="#e00000"/>
<rect x="688" y="374" width="1" height="18" fill="#e00000"/>
<rect x="688" y="362" width="4" height="12" fill="#e00000"/>
<rect x="690" y="374" width="1" height="6" fill="#e00000"/>
<rect x="689" y="344" width="3" height="18" fill="#e00000"/>
<rect x="691" y="350" width="3" height="18" fill="#0000cc"/>
<rect x="692" y="368" width="1" height="6" fill="#0000cc"/>
<rect x="692" y="362" width="4" height="6" fill="#e00000"/>
<rect x="693" y="368" width="1" height="12" fill="#e00000"/>
<rect x="695" y="368" width="1" height="18" fill="#e00000"/>
<rect x="694" y="338" width="3" height="24" fill="#e00000"/>
<rect x="697" y="332" width="1" height="18" fill="#0000cc"/>
<rect x="698" y="332" width="3" height="18" fill="#e00000"/>
<rect x="699" y="350" width="1" height="12" fill="#e00000"/>
<rect x="702" y="332" width="1" height="12" fill="#e00000"/>
<rect x="703" y="332" width="2" height="6" fill="#0000cc"/>
<rect x="705" y="332" width="3" height="6" fill="#e00000"/>
<rect x="618" y="404" width="2" height="6" fill="#0000cc"/>
<rect x="620" y="404" width="2" height="12" fill="#e00000"/>
<rect x="622" y="404" width="3" height="36" fill="#0000cc"/>
<rect x="623" y="440" width="3" height="24" fill="#0000cc"/>
<rect x="624" y="458" width="3" height="12" fill="#0000cc"/>
<rect x="624" y="470" width="1" height="12" fill="#0000cc"/>
<rect x="626" y="470" width="1" height="12" fill="#0000cc"/>
<rect x="627" y="458" width="3" height="18" fill="#e00000"/>
<rect x="628" y="446" width="4" height="12" fill="#e00000"/>
<rect x="630" y="422" width="3" height="24" fill="#e00000"/>
<rect x="631" y="416" width="1" height="6" fill="#e00000"/>
<rect x="632" y="404" width="3" height="12" fill="#e00000"/>
<rect x="634" y="404" width="2" height="6" fill="#0000cc"/>
<rect x="636" y="404" width="3" height="6" fill="#e00000"/>
<rect x="661" y="404" width="1" height="6" fill="#0000cc"/>
<rect x="665" y="404" width="4" height="12" fill="#0000cc"/>
<rect x="666" y="416" width="4" height="18" fill="#0000cc"/>
<rect x="667" y="434" width="4" height="6" fill="#0000cc"/>
<rect x="668" y="440" width="3" height="18" fill="#0000cc"/>
<rect x="669" y="434" width="3" height="18" fill="#e00000"/>
<rect x="670" y="416" width="1" height="42" fill="#e00000"/>
<rect x="672" y="422" width="1" height="6" fill="#e00000"/>
<rect x="672" y="428" width="2" height="12" fill="#e00000"/>
<rect x="673" y="434" width="2" height="12" fill="#0000cc"/>
<rect x="674" y="416" width="1" height="12" fill="#e00000"/>
<rect x="674" y="428" width="2" height="12" fill="#0000cc"/>
<rect x="676" y="440" width="1" height="6" fill="#0000cc"/>
<rect x="676" y="404" width="3" height="36" fill="#e00000"/>
<rect x="679" y="404" width="3" height="12" fill="#0000cc"/>
<rect x="682" y="404" width="3" height="12" fill="#e00000"/>
<rect x="697" y="332" width="7" height="6" fill="#e00000"/>
<rect x="703" y="332" width="2" height="6" fill="#0000cc"/>
<rect x="705" y="314" width="4" height="24" fill="#e00000"/>
<rect x="708" y="320" width="2" height="6" fill="#0000cc"/>
<rect x="709" y="308" width="1" height="24" fill="#0000cc"/>
<rect x="710" y="320" width="3" height="6" fill="#e00000"/>
<rect x="711" y="326" width="1" height="6" fill="#e00000"/>
<rect x="711" y="314" width="4" height="6" fill="#e00000"/>
<rect x="712" y="302" width="4" height="12" fill="#e00000"/>
<rect x="713" y="290" width="1" height="12" fill="#e00000"/>
<rect x="715" y="302" width="2" height="6" fill="#0000cc"/>
<rect x="716" y="308" width="1" height="12" fill="#0000cc"/>
<rect x="715" y="266" width="1" height="36" fill="#e00000"/>
<rect x="717" y="266" width="3" height="42" fill="#e00000"/>
<rect x="719" y="266" width="3" height="12" fill="#0000cc"/>
<rect x="720" y="278" width="1" height="6" fill="#0000cc"/>
<rect x="722" y="278" width="1" height="6" fill="#0000cc"/>
<rect x="721" y="284" width="3" height="6" fill="#0000cc"/>
<rect x="723" y="272" width="1" height="12" fill="#e00000"/>
<rect x="722" y="290" width="1" height="6" fill="#0000cc"/>
<rect x="724" y="284" width="3" height="24" fill="#0000cc"/>
<rect x="725" y="308" width="1" height="6" fill="#0000cc"/>
<rect x="726" y="284" width="3" height="18" fill="#e00000"/>
<rect x="727" y="302" width="1" height="12" fill="#e00000"/>
<rect x="728" y="266" width="3" height="6" fill="#e00000"/>
<rect x="729" y="272" width="3" height="30" fill="#0000cc"/>
<rect x="731" y="302" width="3" height="12" fill="#0000cc"/>
<rect x="732" y="314" width="1" height="6" fill="#0000cc"/>
<rect x="733" y="308" width="2" height="6" fill="#e00000"/>
<rect x="735" y="314" width="3" height="12" fill="#0000cc"/>
<rect x="736" y="326" width="1" height="6" fill="#0000cc"/>
<rect x="738" y="308" width="2" height="18" fill="#e00000"/>
<rect x="740" y="308" width="5" height="6" fill="#0000cc"/>
<rect x="743" y="302" width="1" height="6" fill="#0000cc"/>
<rect x="741" y="314" width="4" height="12" fill="#0000cc"/>
<rect x="744" y="326" width="3" height="6" fill="#0000cc"/>
<rect x="745" y="320" width="3" height="6" fill="#e00000"/>
<rect x="748" y="308" width="1" height="12" fill="#0000cc"/>
<rect x="747" y="320" width="3" height="6" fill="#0000cc"/>
<rect x="750" y="308" width="1" height="24" fill="#e00000"/>
<rect x="749" y="320" width="3" height="6" fill="#e00000"/>
<rect x="751" y="284" width="3" height="42" fill="#e00000"/>
<rect x="752" y="278" width="1" height="60" fill="#e00000"/>
<rect x="753" y="278" width="1" height="6" fill="#0000cc"/>
<rect x="752" y="284" width="2" height="6" fill="#0000cc"/>
<rect x="754" y="284" width="3" height="6" fill="#e00000"/>
<rect x="755" y="278" width="1" height="6" fill="#e00000"/>
<rect x="756" y="290" width="3" height="6" fill="#0000cc"/>
<rect x="757" y="296" width="1" height="6" fill="#0000cc"/>
<rect x="758" y="284" width="3" height="6" fill="#e00000"/>
<rect x="759" y="290" width="1" height="6" fill="#e00000"/>
<rect x="760" y="290" width="4" height="6" fill="#0000cc"/>
<rect x="762" y="296" width="5" height="6" fill="#0000cc"/>
<rect x="764" y="302" width="1" height="6" fill="#0000cc"/>
<rect x="766" y="284" width="1" height="24" fill="#0000cc"/>
<rect x="767" y="296" width="4" height="6" fill="#e00000"/>
<rect x="768" y="284" width="3" height="12" fill="#e00000"/>
<rect x="770" y="266" width="2" height="24" fill="#e00000"/>
<rect x="771" y="260" width="1" height="42" fill="#e00000"/>
<rect x="772" y="266" width="3" height="24" fill="#0000cc"/>
<rect x="773" y="260" width="1" height="36" fill="#0000cc"/>
<rect x="774" y="284" width="2" height="6" fill="#e00000"/>
<rect x="776" y="278" width="1" height="18" fill="#0000cc"/>
<rect x="777" y="290" width="3" height="6" fill="#0000cc"/>
<rect x="779" y="296" width="2" height="6" fill="#e00000"/>
<rect x="783" y="290" width="1" height="6" fill="#0000cc"/>
<rect x="781" y="296" width="3" height="6" fill="#0000cc"/>
<rect x="785" y="290" width="1" height="6" fill="#0000cc"/>
<rect x="784" y="296" width="5" height="6" fill="#0000cc"/>
<rect x="787" y="302" width="1" height="6" fill="#0000cc"/>
<rect x="788" y="296" width="3" height="6" fill="#e00000"/>
<rect x="791" y="278" width="1" height="12" fill="#e00000"/>
<rect x="790" y="290" width="2" height="6" fill="#e00000"/>
<rect x="791" y="290" width="4" height="12" fill="#0000cc"/>
<rect x="792" y="284" width="1" height="6" fill="#0000cc"/>
<rect x="792" y="296" width="4" height="12" fill="#0000cc"/>
<rect x="794" y="308" width="1" height="6" fill="#0000cc"/>
<rect x="796" y="302" width="1" height="6" fill="#e00000"/>
<rect x="797" y="302" width="4" height="6" fill="#0000cc"/>
<rect x="800" y="308" width="3" height="6" fill="#0000cc"/>
<rect x="802" y="314" width="3" height="1" fill="#e00000"/>
<rect x="805" y="314" width="1" height="6" fill="#e00000"/>
<rect x="806" y="302" width="1" height="6" fill="#0000cc"/>
<rect x="805" y="308" width="3" height="6" fill="#0000cc"/>
<rect x="807" y="314" width="3" height="1" fill="#e00000"/>
<rect x="808" y="314" width="1" height="6" fill="#e00000"/>
<rect x="809" y="320" width="5" height="6" fill="#0000cc"/>
<rect x="813" y="314" width="1" height="6" fill="#0000cc"/>
<rect x="771" y="254" width="1" height="12" fill="#e00000"/>
<rect x="773" y="254" width="1" height="12" fill="#0000cc"/>
<rect x="812" y="314" width="1" height="6" fill="#0000cc"/>
<rect x="814" y="320" width="3" height="6" fill="#e00000"/>
<rect x="815" y="326" width="1" height="6" fill="#e00000"/>
<rect x="817" y="314" width="1" height="6" fill="#e00000"/>
<rect x="818" y="320" width="3" height="6" fill="#0000cc"/>
<rect x="821" y="326" width="3" height="1" fill="#e00000"/>
<rect x="821" y="326" width="1" height="6" fill="#e00000"/>
<rect x="823" y="320" width="3" height="6" fill="#e00000"/>
<rect x="825" y="320" width="3" height="6" fill="#0000cc"/>
<rect x="828" y="320" width="3" height="1" fill="#e00000"/>
<rect x="828" y="320" width="1" height="6" fill="#e00000"/>
<rect x="830" y="308" width="3" height="6" fill="#e00000"/>
<rect x="833" y="314" width="2" height="1" fill="#0000cc"/>
<rect x="833" y="314" width="1" height="6" fill="#0000cc"/>
<rect x="833" y="320" width="5" height="1" fill="#0000cc"/>
<rect x="837" y="320" width="1" height="6" fill="#0000cc"/>
<rect x="836" y="326" width="3" height="12" fill="#0000cc"/>
<rect x="837" y="338" width="1" height="6" fill="#0000cc"/>
<rect x="837" y="338" width="3" height="1" fill="#e00000"/>
<rect x="838" y="338" width="1" height="6" fill="#e00000"/>
<rect x="839" y="326" width="3" height="6" fill="#e00000"/>
<rect x="840" y="320" width="1" height="6" fill="#e00000"/>
<rect x="842" y="320" width="1" height="12" fill="#e00000"/>
<rect x="841" y="326" width="5" height="1" fill="#e00000"/>
<rect x="844" y="320" width="1" height="12" fill="#e00000"/>
<rect x="844" y="308" width="3" height="12" fill="#e00000"/>
<rect x="845" y="302" width="1" height="6" fill="#e00000"/>
<rect x="846" y="308" width="3" height="6" fill="#0000cc"/>
<rect x="848" y="314" width="3" height="6" fill="#0000cc"/>
<rect x="851" y="314" width="2" height="12" fill="#e00000"/>
<rect x="852" y="326" width="1" height="6" fill="#e00000"/>
<rect x="853" y="314" width="3" height="12" fill="#0000cc"/>
<rect x="854" y="302" width="1" height="12" fill="#0000cc"/>
<rect x="854" y="326" width="2" height="6" fill="#0000cc"/>
<rect x="856" y="320" width="1" height="6" fill="#e00000"/>
<rect x="855" y="326" width="4" height="6" fill="#e00000"/>
<rect x="857" y="332" width="3" height="30" fill="#0000cc"/>
<rect x="859" y="356" width="4" height="12" fill="#0000cc"/>
<rect x="861" y="368" width="4" height="1" fill="#0000cc"/>
<rect x="878" y="338" width="3" height="30" fill="#e00000"/>
<rect x="879" y="332" width="1" height="6" fill="#e00000"/>
<rect x="881" y="332" width="2" height="6" fill="#e00000"/>
<rect x="881" y="320" width="4" height="18" fill="#e00000"/>
<rect x="883" y="314" width="1" height="6" fill="#e00000"/>
<rect x="872" y="368" width="1" height="1" fill="#0000cc"/>
<rect x="875" y="368" width="3" height="1" fill="#e00000"/>
<rect x="859" y="356" width="4" height="12" fill="#0000cc"/>
<rect x="860" y="368" width="1" height="6" fill="#e00000"/>
<rect x="861" y="368" width="4" height="6" fill="#0000cc"/>
<rect x="863" y="374" width="4" height="6" fill="#0000cc"/>
<rect x="864" y="380" width="3" height="18" fill="#0000cc"/>
<rect x="865" y="398" width="1" height="6" fill="#0000cc"/>
<rect x="866" y="374" width="6" height="1" fill="#e00000"/>
<rect x="867" y="374" width="3" height="18" fill="#e00000"/>
<rect x="867" y="392" width="1" height="18" fill="#e00000"/>
<rect x="872" y="368" width="1" height="12" fill="#0000cc"/>
<rect x="871" y="380" width="2" height="6" fill="#0000cc"/>
<rect x="873" y="380" width="3" height="6" fill="#e00000"/>
<rect x="874" y="386" width="1" height="6" fill="#e00000"/>
<rect x="874" y="374" width="4" height="6" fill="#e00000"/>
<rect x="875" y="368" width="1" height="6" fill="#e00000"/>
<rect x="877" y="368" width="1" height="6" fill="#e00000"/>
<rect x="879" y="368" width="1" height="6" fill="#e00000"/>
<rect x="875" y="368" width="5" height="1" fill="#e00000"/>
<rect x="878" y="350" width="3" height="18" fill="#e00000"/>
<rect x="374" y="536" width="3" height="18" fill="#0000cc"/>
<rect x="375" y="554" width="1" height="6" fill="#0000cc"/>
<rect x="376" y="548" width="3" height="6" fill="#e00000"/>
<rect x="379" y="542" width="2" height="12" fill="#0000cc"/>
<rect x="380" y="554" width="1" height="6" fill="#0000cc"/>
<rect x="381" y="536" width="3" height="18" fill="#e00000"/>
<rect x="383" y="542" width="3" height="24" fill="#0000cc"/>
<rect x="384" y="566" width="1" height="6" fill="#0000cc"/>
<rect x="385" y="554" width="4" height="12" fill="#e00000"/>
<rect x="386" y="566" width="1" height="6" fill="#e00000"/>
<rect x="388" y="548" width="2" height="6" fill="#0000cc"/>
<rect x="389" y="554" width="1" height="6" fill="#0000cc"/>
<rect x="391" y="542" width="1" height="6" fill="#e00000"/>
<rect x="390" y="548" width="2" height="6" fill="#e00000"/>
<rect x="392" y="548" width="5" height="6" fill="#0000cc"/>
<rect x="394" y="554" width="3" height="12" fill="#0000cc"/>
<rect x="396" y="566" width="1" height="12" fill="#e00000"/>
<rect x="397" y="548" width="3" height="18" fill="#e00000"/>
<rect x="400" y="542" width="1" height="6" fill="#0000cc"/>
<rect x="399" y="548" width="3" height="12" fill="#0000cc"/>
<rect x="401" y="560" width="3" height="18" fill="#0000cc"/>
<rect x="402" y="572" width="3" height="6" fill="#e00000"/>
<rect x="404" y="560" width="5" height="6" fill="#e00000"/>
<rect x="405" y="554" width="1" height="6" fill="#e00000"/>
<rect x="408" y="548" width="3" height="12" fill="#e00000"/>
<rect x="409" y="542" width="1" height="6" fill="#e00000"/>
<rect x="410" y="554" width="1" height="6" fill="#0000cc"/>
<rect x="411" y="542" width="3" height="12" fill="#e00000"/>
<rect x="413" y="536" width="2" height="12" fill="#0000cc"/>
<rect x="415" y="542" width="3" height="6" fill="#e00000"/>
<rect x="416" y="548" width="1" height="12" fill="#e00000"/>
<rect x="417" y="536" width="6" height="6" fill="#e00000"/>
<rect x="424" y="536" width="3" height="6" fill="#0000cc"/>
</g>
<g shape-rendering="crispEdges" fill="#e00000"><rect x="46" y="11" width="15" height="1"/><rect x="47" y="10" width="2" height="1"/><rect x="49" y="9" width="1" height="1"/><rect x="50" y="8" width="2" height="1"/></g>
<g style="filter:opacity(0.999)"><text transform="scale(0.78,1)" x="88.46 94.87 101.28 108.97 116.67 124.36 132.05 138.46 144.23 151.28 158.97 166.67 174.36 182.05 188.46 194.87 202.56 208.97 215.38 223.08 230.13" y="14" font-size="14" fill="#e00000" stroke="#e00000" stroke-width="0.3" text-anchor="middle">1,11595 (10/25 17:50)</text></g>
<g shape-rendering="crispEdges" fill="#0000dd"><rect x="218" y="617" width="15" height="1"/><rect x="219" y="618" width="2" height="1"/><rect x="221" y="619" width="1" height="1"/><rect x="222" y="620" width="2" height="1"/></g>
<g style="filter:opacity(0.999)"><text transform="scale(0.78,1)" x="310.26 316.67 323.08 330.77 338.46 346.15 353.85 360.26 366.03 373.08 380.77 388.46 396.15 403.85 410.26 416.67 424.36 430.77 437.18 444.87 451.92" y="620" font-size="14" fill="#0000dd" stroke="#0000dd" stroke-width="0.3" text-anchor="middle">1,11095 (10/26 01:55)</text></g>
<g shape-rendering="crispEdges" stroke="none">
<path fill="#0000ff" d="M0 259h1v1h-1zM1 260h1v1h-1zM2 261h1v2h-1zM3 263h1v1h-1zM4 264h1v1h-1zM5 265h1v1h-1zM6 266h1v2h-1zM7 268h1v1h-1zM8 269h1v1h-1zM9 270h1v1h-1zM10 271h1v2h-1zM11 273h1v1h-1zM12 274h1v1h-1zM13 275h1v1h-1zM14 276h1v2h-1zM15 278h1v1h-1zM16 279h1v1h-1zM17 280h1v1h-1zM18 281h1v2h-1zM19 283h1v1h-1zM20 284h1v1h-1z"/>
<path fill="#ff0000" d="M20 283h1v2h-1zM21 280h1v3h-1zM22 277h1v3h-1zM23 274h1v3h-1zM24 271h1v3h-1zM25 268h1v3h-1zM26 265h1v3h-1zM27 262h1v3h-1zM28 260h1v2h-1zM29 257h1v3h-1zM30 254h1v3h-1zM31 251h1v3h-1zM32 248h1v3h-1zM33 245h1v3h-1zM34 242h1v3h-1zM35 239h1v3h-1zM36 236h1v3h-1zM37 233h1v3h-1zM38 230h1v3h-1zM39 227h1v3h-1zM40 224h1v3h-1zM41 221h1v3h-1zM42 218h1v3h-1zM43 216h1v2h-1zM44 213h1v3h-1zM45 210h1v3h-1zM46 207h1v3h-1zM47 204h1v3h-1zM48 201h1v3h-1zM49 198h1v3h-1zM50 195h1v3h-1zM51 192h1v3h-1zM52 189h1v3h-1zM53 186h1v3h-1zM54 183h1v3h-1zM55 180h1v3h-1zM56 177h1v3h-1zM57 174h1v3h-1zM58 172h1v2h-1zM59 169h1v3h-1zM60 166h1v3h-1zM61 163h1v3h-1zM62 160h1v3h-1zM63 157h1v3h-1zM64 154h1v3h-1zM65 151h1v3h-1zM66 148h1v3h-1zM67 145h1v3h-1zM68 142h1v3h-1zM69 139h1v3h-1zM70 136h1v3h-1zM71 133h1v3h-1zM72 130h1v3h-1zM73 127h1v3h-1zM74 125h1v2h-1zM75 122h1v3h-1zM76 119h1v3h-1zM77 116h1v3h-1zM78 113h1v3h-1zM79 110h1v3h-1zM80 107h1v3h-1zM81 104h1v3h-1zM82 101h1v3h-1zM83 98h1v3h-1zM84 95h1v3h-1zM85 92h1v3h-1zM86 89h1v3h-1zM87 86h1v3h-1zM88 83h1v3h-1zM89 81h1v2h-1zM90 78h1v3h-1zM91 75h1v3h-1zM92 72h1v3h-1zM93 69h1v3h-1zM94 66h1v3h-1zM95 63h1v3h-1zM96 60h1v3h-1zM97 57h1v3h-1zM98 54h1v3h-1zM99 51h1v3h-1zM100 48h1v3h-1zM101 45h1v3h-1zM102 42h1v3h-1zM103 39h1v3h-1zM104 37h1v2h-1zM105 34h1v3h-1zM106 31h1v3h-1zM107 28h1v3h-1zM108 25h1v3h-1zM109 22h1v3h-1zM110 19h1v3h-1zM111 16h1v3h-1zM112 14h1v2h-1z"/>
<path fill="#0000ff" d="M112 14h1v2h-1zM113 16h1v4h-1zM114 20h1v4h-1zM115 24h1v3h-1zM116 27h1v4h-1zM117 31h1v4h-1zM118 35h1v4h-1zM119 39h1v3h-1zM120 42h1v4h-1zM121 46h1v4h-1zM122 50h1v3h-1zM123 53h1v4h-1zM124 57h1v4h-1zM125 61h1v4h-1zM126 65h1v3h-1zM127 68h1v4h-1zM128 72h1v4h-1zM129 76h1v3h-1zM130 79h1v4h-1zM131 83h1v4h-1zM132 87h1v3h-1zM133 90h1v4h-1zM134 94h1v4h-1zM135 98h1v4h-1zM136 102h1v3h-1zM137 105h1v4h-1zM138 109h1v4h-1zM139 113h1v3h-1zM140 116h1v4h-1zM141 120h1v4h-1zM142 124h1v3h-1zM143 127h1v4h-1zM144 131h1v4h-1zM145 135h1v4h-1zM146 139h1v3h-1zM147 142h1v4h-1zM148 146h1v4h-1zM149 150h1v3h-1zM150 153h1v4h-1zM151 157h1v4h-1zM152 161h1v4h-1zM153 165h1v3h-1zM154 168h1v4h-1zM155 172h1v4h-1zM156 176h1v3h-1zM157 179h1v4h-1zM158 183h1v4h-1zM159 187h1v3h-1zM160 190h1v4h-1zM161 194h1v4h-1zM162 198h1v4h-1zM163 202h1v3h-1zM164 205h1v4h-1zM165 209h1v4h-1zM166 213h1v3h-1zM167 216h1v4h-1zM168 220h1v4h-1zM169 224h1v3h-1zM170 227h1v4h-1zM171 231h1v4h-1zM172 235h1v4h-1zM173 239h1v3h-1zM174 242h1v4h-1zM175 246h1v4h-1zM176 250h1v3h-1zM177 253h1v4h-1zM178 257h1v4h-1zM179 261h1v4h-1zM180 265h1v3h-1zM181 268h1v4h-1zM182 272h1v4h-1zM183 276h1v3h-1zM184 279h1v4h-1zM185 283h1v4h-1zM186 287h1v3h-1zM187 290h1v4h-1zM188 294h1v4h-1zM189 298h1v4h-1zM190 302h1v3h-1zM191 305h1v4h-1zM192 309h1v4h-1zM193 313h1v3h-1zM194 316h1v4h-1zM195 320h1v4h-1zM196 324h1v3h-1zM197 327h1v4h-1zM198 331h1v4h-1zM199 335h1v4h-1zM200 339h1v3h-1zM201 342h1v4h-1zM202 346h1v4h-1zM203 350h1v3h-1zM204 353h1v4h-1zM205 357h1v4h-1zM206 361h1v4h-1zM207 365h1v3h-1zM208 368h1v4h-1zM209 372h1v4h-1zM210 376h1v3h-1zM211 379h1v4h-1zM212 383h1v4h-1zM213 387h1v3h-1zM214 390h1v4h-1zM215 394h1v4h-1zM216 398h1v4h-1zM217 402h1v3h-1zM218 405h1v4h-1zM219 409h1v4h-1zM220 413h1v3h-1zM221 416h1v4h-1zM222 420h1v4h-1zM223 424h1v3h-1zM224 427h1v4h-1zM225 431h1v4h-1zM226 435h1v4h-1zM227 439h1v3h-1zM228 442h1v4h-1zM229 446h1v4h-1zM230 450h1v3h-1zM231 453h1v4h-1zM232 457h1v4h-1zM233 461h1v4h-1zM234 465h1v3h-1zM235 468h1v4h-1zM236 472h1v4h-1zM237 476h1v3h-1zM238 479h1v4h-1zM239 483h1v4h-1zM240 487h1v3h-1zM241 490h1v4h-1zM242 494h1v4h-1zM243 498h1v4h-1zM244 502h1v3h-1zM245 505h1v4h-1zM246 509h1v4h-1zM247 513h1v3h-1zM248 516h1v4h-1zM249 520h1v4h-1zM250 524h1v3h-1zM251 527h1v4h-1zM252 531h1v4h-1zM253 535h1v4h-1zM254 539h1v3h-1zM255 542h1v4h-1zM256 546h1v4h-1zM257 550h1v3h-1zM258 553h1v4h-1zM259 557h1v4h-1zM260 561h1v4h-1zM261 565h1v3h-1zM262 568h1v4h-1zM263 572h1v4h-1zM264 576h1v3h-1zM265 579h1v4h-1zM266 583h1v4h-1zM267 587h1v3h-1zM268 590h1v4h-1zM269 594h1v4h-1zM270 598h1v4h-1zM271 602h1v3h-1zM272 605h1v4h-1zM273 609h1v4h-1zM274 613h1v2h-1z"/>
<path fill="#ff0000" d="M274 614h1v1h-1zM275 613h1v1h-1zM276 612h1v1h-1zM277 611h1v1h-1zM278 610h1v1h-1zM279 609h1v1h-1zM280 608h1v1h-1zM281 607h1v1h-1zM282 606h1v1h-1zM283 605h1v1h-1zM284 604h1v1h-1zM285 603h1v1h-1zM286 602h1v1h-1zM287 601h1v1h-1zM288 600h1v1h-1zM289 599h1v1h-1zM290 598h1v1h-1zM291 597h1v1h-1zM292 596h1v1h-1zM293 595h1v1h-1zM294 594h1v1h-1zM295 593h1v1h-1zM296 592h1v1h-1zM297 591h1v1h-1zM298 590h1v1h-1zM299 589h1v1h-1zM300 588h1v1h-1zM301 587h1v1h-1zM302 586h1v1h-1zM303 585h1v1h-1zM304 584h1v1h-1zM305 583h2v1h-2zM307 582h1v1h-1zM308 581h1v1h-1zM309 580h1v1h-1zM310 579h1v1h-1zM311 578h1v1h-1zM312 577h1v1h-1zM313 576h1v1h-1zM314 575h1v1h-1zM315 574h1v1h-1zM316 573h1v1h-1zM317 572h1v1h-1zM318 571h1v1h-1zM319 570h1v1h-1zM320 569h1v1h-1zM321 568h1v1h-1zM322 567h1v1h-1zM323 566h1v1h-1zM324 565h1v1h-1zM325 564h1v1h-1zM326 563h1v1h-1zM327 562h1v1h-1zM328 561h1v1h-1zM329 560h1v1h-1zM330 559h1v1h-1zM331 558h1v1h-1zM332 557h1v1h-1zM333 556h1v1h-1zM334 555h1v1h-1zM335 554h1v1h-1zM336 553h1v1h-1zM337 552h1v1h-1zM338 551h1v1h-1zM339 550h1v1h-1zM340 549h1v1h-1zM341 548h1v1h-1zM342 547h1v1h-1zM343 546h1v1h-1zM344 545h1v1h-1zM345 544h1v1h-1zM346 543h1v1h-1zM347 542h1v1h-1zM348 541h1v1h-1zM349 540h1v1h-1zM350 539h1v1h-1zM351 538h1v1h-1zM352 537h1v1h-1zM353 536h1v1h-1zM354 535h1v1h-1zM355 534h1v1h-1zM356 533h1v1h-1zM357 532h1v1h-1zM358 531h1v1h-1zM359 530h1v1h-1zM360 529h1v1h-1zM361 528h1v1h-1zM362 527h1v1h-1zM363 526h1v1h-1zM364 525h1v1h-1zM365 524h1v1h-1zM366 523h1v1h-1zM367 522h1v1h-1zM368 521h1v1h-1zM369 520h2v1h-2zM371 519h1v1h-1zM372 518h1v1h-1zM373 517h1v1h-1zM374 516h1v1h-1zM375 515h1v1h-1zM376 514h1v1h-1zM377 513h1v1h-1zM378 512h1v1h-1zM379 511h1v1h-1zM380 510h1v1h-1zM381 509h1v1h-1zM382 508h1v1h-1zM383 507h1v1h-1zM384 506h1v1h-1zM385 505h1v1h-1zM386 504h1v1h-1zM387 503h1v1h-1zM388 502h1v1h-1zM389 501h1v1h-1zM390 500h1v1h-1zM391 499h1v1h-1zM392 498h1v1h-1zM393 497h1v1h-1zM394 496h1v1h-1zM395 495h1v1h-1zM396 494h1v1h-1zM397 493h1v1h-1zM398 492h1v1h-1zM399 491h1v1h-1zM400 490h1v1h-1zM401 489h1v1h-1zM402 488h1v1h-1z"/>
<path fill="#0000ff" d="M402 488h1v1h-1zM403 489h1v2h-1zM404 491h1v2h-1zM405 493h1v1h-1zM406 494h1v2h-1zM407 496h1v2h-1zM408 498h1v1h-1zM409 499h1v2h-1zM410 501h1v2h-1zM411 503h1v1h-1zM412 504h1v2h-1zM413 506h1v2h-1zM414 508h1v1h-1zM415 509h1v2h-1zM416 511h1v2h-1zM417 513h1v1h-1zM418 514h1v2h-1zM419 516h1v2h-1zM420 518h1v1h-1zM421 519h1v2h-1zM422 521h1v2h-1zM423 523h1v1h-1zM424 524h1v2h-1zM425 526h1v2h-1zM426 528h1v1h-1zM427 529h1v2h-1zM428 531h1v2h-1zM429 533h1v1h-1zM430 534h1v2h-1zM431 536h1v2h-1zM432 538h1v1h-1zM433 539h1v2h-1zM434 541h1v2h-1zM435 543h1v1h-1zM436 544h1v2h-1zM437 546h1v2h-1zM438 548h1v1h-1zM439 549h1v2h-1zM440 551h1v2h-1zM441 553h1v1h-1zM442 554h1v2h-1zM443 556h1v2h-1zM444 558h1v1h-1zM445 559h1v2h-1zM446 561h1v2h-1zM447 563h1v1h-1zM448 564h1v2h-1zM449 566h1v2h-1zM450 568h1v1h-1zM451 569h1v2h-1zM452 571h1v2h-1zM453 573h1v1h-1zM454 574h1v2h-1zM455 576h1v2h-1zM456 578h1v1h-1z"/>
<path fill="#ff0000" d="M456 577h1v2h-1zM457 575h1v2h-1zM458 573h1v2h-1zM459 571h1v2h-1zM460 569h1v2h-1zM461 567h1v2h-1zM462 565h1v2h-1zM463 563h1v2h-1zM464 561h1v2h-1zM465 559h1v2h-1zM466 557h1v2h-1zM467 555h1v2h-1zM468 553h1v2h-1zM469 551h1v2h-1zM470 549h1v2h-1zM471 547h1v2h-1zM472 545h1v2h-1zM473 543h1v2h-1zM474 541h1v2h-1zM475 539h1v2h-1zM476 537h1v2h-1zM477 535h1v2h-1zM478 533h1v2h-1zM479 531h1v2h-1zM480 529h1v2h-1zM481 527h1v2h-1zM482 525h1v2h-1zM483 523h1v2h-1zM484 521h1v2h-1zM485 519h1v2h-1zM486 517h1v2h-1zM487 515h1v2h-1zM488 513h1v2h-1zM489 511h1v2h-1zM490 509h1v2h-1zM491 507h1v2h-1zM492 505h1v2h-1zM493 503h1v2h-1zM494 501h1v2h-1zM495 499h1v2h-1zM496 497h1v2h-1zM497 495h1v2h-1zM498 493h1v2h-1zM499 491h1v2h-1zM500 489h1v2h-1zM501 487h1v2h-1zM502 485h1v2h-1zM503 483h1v2h-1zM504 481h1v2h-1zM505 479h1v2h-1zM506 477h1v2h-1zM507 475h1v2h-1zM508 473h1v2h-1zM509 471h1v2h-1zM510 469h1v2h-1zM511 467h1v2h-1zM512 465h1v2h-1zM513 463h1v2h-1zM514 461h1v2h-1zM515 459h1v2h-1zM516 457h1v2h-1zM517 455h1v2h-1zM518 453h1v2h-1zM519 451h1v2h-1zM520 449h1v2h-1zM521 447h1v2h-1zM522 445h1v2h-1zM523 443h1v2h-1zM524 441h1v2h-1zM525 439h1v2h-1zM526 437h1v2h-1zM527 435h1v2h-1zM528 433h1v2h-1zM529 431h1v2h-1zM530 429h1v2h-1zM531 427h1v2h-1zM532 425h1v2h-1zM533 423h1v2h-1zM534 421h1v2h-1zM535 419h1v2h-1zM536 417h1v2h-1zM537 415h1v2h-1zM538 413h1v2h-1zM539 411h1v2h-1zM540 409h1v2h-1zM541 407h1v2h-1zM542 405h1v2h-1zM543 403h1v2h-1zM544 401h1v2h-1zM545 399h1v2h-1zM546 397h1v2h-1zM547 395h1v2h-1zM548 393h1v2h-1zM549 391h1v2h-1zM550 389h1v2h-1zM551 387h1v2h-1zM552 385h1v2h-1zM553 383h1v2h-1zM554 381h1v2h-1zM555 379h1v2h-1zM556 377h1v2h-1zM557 375h1v2h-1zM558 373h1v2h-1zM559 371h1v2h-1zM560 369h1v2h-1zM561 367h1v2h-1zM562 365h1v2h-1zM563 363h1v2h-1zM564 361h1v2h-1zM565 359h1v2h-1zM566 357h1v2h-1zM567 355h1v2h-1zM568 353h1v2h-1zM569 351h1v2h-1zM570 349h1v2h-1zM571 347h1v2h-1zM572 345h1v2h-1zM573 343h1v2h-1zM574 341h1v2h-1zM575 339h1v2h-1zM576 337h1v2h-1zM577 335h1v2h-1zM578 333h1v2h-1zM579 331h1v2h-1zM580 329h1v2h-1zM581 327h1v2h-1zM582 325h1v2h-1zM583 323h1v2h-1zM584 321h1v2h-1zM585 319h1v2h-1zM586 317h1v2h-1zM587 315h1v2h-1zM588 313h1v2h-1zM589 311h1v2h-1zM590 309h1v2h-1zM591 307h1v2h-1zM592 305h1v2h-1zM593 303h1v2h-1zM594 301h1v2h-1zM595 299h1v2h-1zM596 297h1v2h-1zM597 295h1v2h-1zM598 293h1v2h-1zM599 291h1v2h-1zM600 289h1v2h-1zM601 287h1v2h-1zM602 285h1v2h-1zM603 283h1v2h-1zM604 281h1v2h-1zM605 279h1v2h-1zM606 277h1v2h-1zM607 275h1v2h-1zM608 273h1v2h-1zM609 271h1v2h-1zM610 269h1v2h-1zM611 267h1v2h-1zM612 265h1v2h-1zM613 263h1v2h-1zM614 261h1v2h-1zM615 259h1v2h-1zM616 257h1v2h-1zM617 255h1v2h-1zM618 253h1v2h-1zM619 251h1v2h-1zM620 249h1v2h-1zM621 247h1v2h-1zM622 245h1v2h-1zM623 243h1v2h-1zM624 241h1v2h-1zM625 239h1v2h-1zM626 237h1v2h-1zM627 235h1v2h-1zM628 233h1v2h-1zM629 231h1v2h-1zM630 229h1v2h-1zM631 227h1v2h-1zM632 225h1v2h-1zM633 223h1v2h-1zM634 221h1v2h-1zM635 219h1v2h-1zM636 217h1v2h-1zM637 215h1v2h-1zM638 213h1v2h-1zM639 212h1v1h-1z"/>
<path fill="#0000ff" d="M639 212h1v4h-1zM640 216h1v7h-1zM641 223h1v6h-1zM642 229h1v7h-1zM643 236h1v7h-1zM644 243h1v7h-1zM645 250h1v6h-1zM646 256h1v7h-1zM647 263h1v7h-1zM648 270h1v7h-1zM649 277h1v6h-1zM650 283h1v7h-1zM651 290h1v7h-1zM652 297h1v7h-1zM653 304h1v6h-1zM654 310h1v7h-1zM655 317h1v7h-1zM656 324h1v7h-1zM657 331h1v6h-1zM658 337h1v7h-1zM659 344h1v7h-1zM660 351h1v7h-1zM661 358h1v6h-1zM662 364h1v7h-1zM663 371h1v7h-1zM664 378h1v7h-1zM665 385h1v6h-1zM666 391h1v7h-1zM667 398h1v7h-1zM668 405h1v7h-1zM669 412h1v6h-1zM670 418h1v7h-1zM671 425h1v7h-1zM672 432h1v7h-1zM673 439h1v6h-1zM674 445h1v7h-1zM675 452h1v7h-1zM676 459h1v7h-1zM677 466h1v6h-1zM678 472h1v7h-1zM679 479h1v4h-1z"/>
<path fill="#ff0000" d="M679 482h1v1h-1zM680 480h1v2h-1zM681 479h1v1h-1zM682 477h1v2h-1zM683 476h1v1h-1zM684 474h1v2h-1zM685 472h1v2h-1zM686 471h1v1h-1zM687 469h1v2h-1zM688 468h1v1h-1zM689 466h1v2h-1zM690 465h1v1h-1zM691 463h1v2h-1zM692 462h1v1h-1zM693 460h1v2h-1zM694 458h1v2h-1zM695 457h1v1h-1zM696 455h1v2h-1zM697 454h1v1h-1zM698 452h1v2h-1zM699 451h1v1h-1zM700 449h1v2h-1zM701 448h1v1h-1zM702 446h1v2h-1zM703 444h1v2h-1zM704 443h1v1h-1zM705 441h1v2h-1zM706 440h1v1h-1zM707 438h1v2h-1zM708 437h1v1h-1zM709 435h1v2h-1zM710 434h1v1h-1zM711 432h1v2h-1zM712 430h1v2h-1zM713 429h1v1h-1zM714 427h1v2h-1zM715 426h1v1h-1zM716 424h1v2h-1zM717 423h1v1h-1zM718 421h1v2h-1zM719 420h1v1h-1zM720 418h1v2h-1zM721 416h1v2h-1zM722 415h1v1h-1zM723 413h1v2h-1zM724 412h1v1h-1zM725 410h1v2h-1zM726 409h1v1h-1zM727 407h1v2h-1zM728 406h1v1h-1zM729 404h1v2h-1zM730 402h1v2h-1zM731 401h1v1h-1zM732 399h1v2h-1zM733 398h1v1h-1zM734 396h1v2h-1zM735 395h1v1h-1zM736 393h1v2h-1zM737 392h1v1h-1zM738 390h1v2h-1zM739 388h1v2h-1zM740 387h1v1h-1zM741 385h1v2h-1zM742 384h1v1h-1zM743 382h1v2h-1zM744 381h1v1h-1zM745 379h1v2h-1zM746 378h1v1h-1zM747 376h1v2h-1zM748 374h1v2h-1zM749 373h1v1h-1zM750 371h1v2h-1zM751 370h1v1h-1zM752 368h1v2h-1zM753 367h1v1h-1zM754 365h1v2h-1zM755 364h1v1h-1zM756 362h1v2h-1zM757 360h1v2h-1zM758 359h1v1h-1zM759 357h1v2h-1zM760 356h1v1h-1zM761 354h1v2h-1zM762 353h1v1h-1zM763 351h1v2h-1zM764 350h1v1h-1zM765 348h1v2h-1zM766 346h1v2h-1zM767 345h1v1h-1zM768 343h1v2h-1zM769 342h1v1h-1zM770 340h1v2h-1zM771 339h1v1h-1zM772 337h1v2h-1zM773 336h1v1h-1zM774 334h1v2h-1zM775 332h1v2h-1zM776 331h1v1h-1zM777 329h1v2h-1zM778 328h1v1h-1zM779 326h1v2h-1zM780 325h1v1h-1zM781 323h1v2h-1zM782 322h1v1h-1zM783 320h1v2h-1zM784 318h1v2h-1zM785 317h1v1h-1zM786 315h1v2h-1zM787 314h1v1h-1zM788 312h1v2h-1zM789 311h1v1h-1zM790 309h1v2h-1zM791 308h1v1h-1zM792 306h1v2h-1zM793 304h1v2h-1zM794 303h1v1h-1zM795 301h1v2h-1zM796 300h1v1h-1zM797 298h1v2h-1zM798 297h1v1h-1zM799 295h1v2h-1zM800 294h1v1h-1zM801 292h1v2h-1zM802 290h1v2h-1zM803 289h1v1h-1zM804 287h1v2h-1zM805 286h1v1h-1zM806 284h1v2h-1zM807 283h1v1h-1zM808 281h1v2h-1zM809 280h1v1h-1zM810 278h1v2h-1zM811 276h1v2h-1zM812 275h1v1h-1zM813 273h1v2h-1zM814 272h1v1h-1zM815 270h1v2h-1zM816 269h1v1h-1zM817 267h1v2h-1zM818 266h1v1h-1zM819 264h1v2h-1zM820 262h1v2h-1zM821 261h1v1h-1zM822 259h1v2h-1zM823 258h1v1h-1zM824 256h1v2h-1zM825 255h1v1h-1z"/>
</g>
<g shape-rendering="crispEdges" fill="#000">
<rect x="888" y="0" width="1" height="631"/>
<rect x="0" y="630" width="889" height="1"/>
<rect x="888" y="8" width="6" height="1"/>
<rect x="888" y="128" width="6" height="1"/>
<rect x="888" y="248" width="6" height="1"/>
<rect x="888" y="368" width="6" height="1"/>
<rect x="888" y="488" width="6" height="1"/>
<rect x="888" y="608" width="6" height="1"/>
<rect x="888" y="68" width="4" height="1"/>
<rect x="888" y="188" width="4" height="1"/>
<rect x="888" y="308" width="4" height="1"/>
<rect x="888" y="428" width="4" height="1"/>
<rect x="888" y="548" width="4" height="1"/>
</g>
<g style="filter:opacity(0.999)"><text transform="scale(0.78,1)" x="1153.85 1160.26 1166.67 1174.36 1182.05 1189.74 1197.44" y="12" font-size="14" fill="#000" stroke="#000" stroke-width="0.3" text-anchor="middle">1,11600</text></g>
<g style="filter:opacity(0.999)"><text transform="scale(0.78,1)" x="1153.85 1160.26 1166.67 1174.36 1182.05 1189.74 1197.44" y="132" font-size="14" fill="#000" stroke="#000" stroke-width="0.3" text-anchor="middle">1,11500</text></g>
<g style="filter:opacity(0.999)"><text transform="scale(0.78,1)" x="1153.85 1160.26 1166.67 1174.36 1182.05 1189.74 1197.44" y="252" font-size="14" fill="#000" stroke="#000" stroke-width="0.3" text-anchor="middle">1,11400</text></g>
<g style="filter:opacity(0.999)"><text transform="scale(0.78,1)" x="1153.85 1160.26 1166.67 1174.36 1182.05 1189.74 1197.44" y="372" font-size="14" fill="#000" stroke="#000" stroke-width="0.3" text-anchor="middle">1,11300</text></g>
<g style="filter:opacity(0.999)"><text transform="scale(0.78,1)" x="1153.85 1160.26 1166.67 1174.36 1182.05 1189.74 1197.44" y="492" font-size="14" fill="#000" stroke="#000" stroke-width="0.3" text-anchor="middle">1,11200</text></g>
<g style="filter:opacity(0.999)"><text transform="scale(0.78,1)" x="1153.85 1160.26 1166.67 1174.36 1182.05 1189.74 1197.44" y="612" font-size="14" fill="#000" stroke="#000" stroke-width="0.3" text-anchor="middle">1,11100</text></g>
</svg></body></html>
